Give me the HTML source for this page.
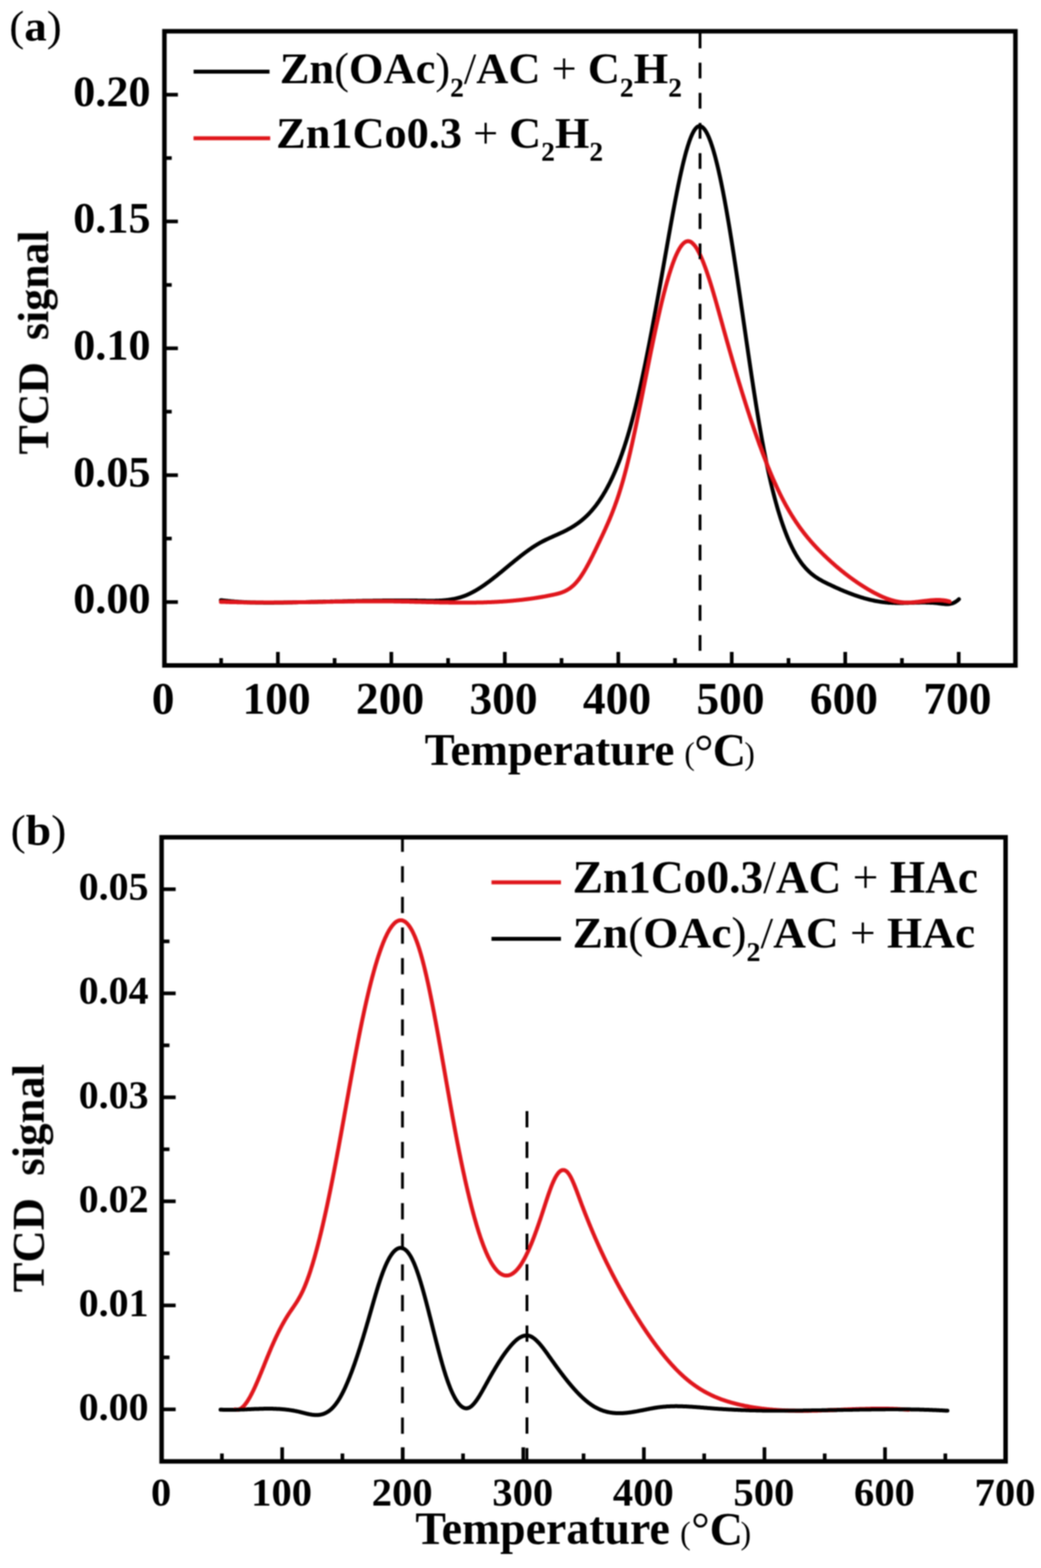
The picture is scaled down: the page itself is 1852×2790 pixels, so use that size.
<!DOCTYPE html><html><head><meta charset="utf-8"><title>TCD signal vs Temperature</title><style>html,body{margin:0;padding:0;background:#fff}svg{display:block}</style></head><body>
<svg width="1852" height="2790" viewBox="0 0 1852 2790">
<defs><filter id="soft" x="0" y="0" width="1" height="1"><feGaussianBlur stdDeviation="0.8"/></filter></defs>
<rect width="1852" height="2790" fill="#fff"/>
<g filter="url(#soft)">
<path d="M494.4,1184.0V1160.0 M696.2,1184.0V1160.0 M898.1,1184.0V1160.0 M1100.0,1184.0V1160.0 M1301.8,1184.0V1160.0 M1503.7,1184.0V1160.0 M1705.6,1184.0V1160.0 M393.4,1184.0V1171.0 M595.3,1184.0V1171.0 M797.2,1184.0V1171.0 M999.0,1184.0V1171.0 M1200.9,1184.0V1171.0 M1402.8,1184.0V1171.0 M1604.6,1184.0V1171.0 M292.5,1071.2H316.5 M292.5,845.5H316.5 M292.5,619.8H316.5 M292.5,394.1H316.5 M292.5,168.4H316.5 M292.5,958.3H305.5 M292.5,732.6H305.5 M292.5,507.0H305.5 M292.5,281.3H305.5" stroke="#000" stroke-width="6.5" fill="none"/>
<path d="M393.0,1067.9L394.0,1068.0L395.0,1068.1L396.0,1068.2L397.0,1068.4L398.0,1068.5L399.0,1068.6L400.0,1068.7L401.0,1068.8L402.0,1068.9L403.0,1069.0L404.0,1069.1L405.0,1069.2L406.0,1069.3L407.0,1069.4L408.0,1069.5L409.0,1069.6L410.0,1069.7L411.0,1069.8L412.0,1069.9L413.0,1070.0L414.0,1070.1L415.0,1070.1L416.0,1070.2L417.0,1070.3L418.0,1070.4L419.0,1070.5L420.0,1070.5L421.0,1070.6L422.0,1070.7L423.0,1070.7L424.0,1070.8L425.0,1070.9L426.0,1070.9L427.0,1071.0L428.0,1071.1L429.0,1071.1L430.0,1071.2L431.0,1071.2L432.0,1071.3L433.0,1071.3L434.0,1071.4L435.0,1071.4L436.0,1071.5L437.0,1071.5L438.0,1071.6L439.0,1071.6L440.0,1071.7L441.0,1071.7L442.0,1071.8L443.0,1071.8L444.0,1071.8L445.0,1071.9L446.0,1071.9L447.0,1071.9L448.0,1072.0L449.0,1072.0L450.0,1072.0L451.0,1072.1L452.0,1072.1L453.0,1072.1L454.0,1072.1L455.0,1072.2L456.0,1072.2L457.0,1072.2L458.0,1072.2L459.0,1072.2L460.0,1072.2L461.0,1072.3L462.0,1072.3L463.0,1072.3L464.0,1072.3L465.0,1072.3L466.0,1072.3L467.0,1072.3L468.0,1072.3L469.0,1072.4L470.0,1072.4L471.0,1072.4L472.0,1072.4L473.0,1072.4L474.0,1072.4L475.0,1072.4L476.0,1072.4L477.0,1072.4L478.0,1072.4L479.0,1072.4L480.0,1072.4L481.0,1072.4L482.0,1072.4L483.0,1072.4L484.0,1072.4L485.0,1072.4L486.0,1072.4L487.0,1072.4L488.0,1072.3L489.0,1072.3L490.0,1072.3L491.0,1072.3L492.0,1072.3L493.0,1072.3L494.0,1072.3L495.0,1072.3L496.0,1072.3L497.0,1072.3L498.0,1072.2L499.0,1072.2L500.0,1072.2L501.0,1072.2L502.0,1072.2L503.0,1072.2L504.0,1072.2L505.0,1072.1L506.0,1072.1L507.0,1072.1L508.0,1072.1L509.0,1072.1L510.0,1072.1L511.0,1072.0L512.0,1072.0L513.0,1072.0L514.0,1072.0L515.0,1072.0L516.0,1071.9L517.0,1071.9L518.0,1071.9L519.0,1071.9L520.0,1071.9L521.0,1071.8L522.0,1071.8L523.0,1071.8L524.0,1071.8L525.0,1071.8L526.0,1071.7L527.0,1071.7L528.0,1071.7L529.0,1071.7L530.0,1071.7L531.0,1071.6L532.0,1071.6L533.0,1071.6L534.0,1071.6L535.0,1071.6L536.0,1071.5L537.0,1071.5L538.0,1071.5L539.0,1071.5L540.0,1071.4L541.0,1071.4L542.0,1071.4L543.0,1071.4L544.0,1071.4L545.0,1071.3L546.0,1071.3L547.0,1071.3L548.0,1071.3L549.0,1071.2L550.0,1071.2L551.0,1071.2L552.0,1071.2L553.0,1071.1L554.0,1071.1L555.0,1071.1L556.0,1071.1L557.0,1071.1L558.0,1071.0L559.0,1071.0L560.0,1071.0L561.0,1071.0L562.0,1070.9L563.0,1070.9L564.0,1070.9L565.0,1070.9L566.0,1070.8L567.0,1070.8L568.0,1070.8L569.0,1070.8L570.0,1070.8L571.0,1070.7L572.0,1070.7L573.0,1070.7L574.0,1070.7L575.0,1070.6L576.0,1070.6L577.0,1070.6L578.0,1070.6L579.0,1070.5L580.0,1070.5L581.0,1070.5L582.0,1070.5L583.0,1070.5L584.0,1070.4L585.0,1070.4L586.0,1070.4L587.0,1070.4L588.0,1070.3L589.0,1070.3L590.0,1070.3L591.0,1070.3L592.0,1070.2L593.0,1070.2L594.0,1070.2L595.0,1070.2L596.0,1070.1L597.0,1070.1L598.0,1070.1L599.0,1070.1L600.0,1070.1L601.0,1070.0L602.0,1070.0L603.0,1070.0L604.0,1070.0L605.0,1069.9L606.0,1069.9L607.0,1069.9L608.0,1069.9L609.0,1069.9L610.0,1069.8L611.0,1069.8L612.0,1069.8L613.0,1069.8L614.0,1069.7L615.0,1069.7L616.0,1069.7L617.0,1069.7L618.0,1069.7L619.0,1069.6L620.0,1069.6L621.0,1069.6L622.0,1069.6L623.0,1069.6L624.0,1069.5L625.0,1069.5L626.0,1069.5L627.0,1069.5L628.0,1069.5L629.0,1069.4L630.0,1069.4L631.0,1069.4L632.0,1069.4L633.0,1069.4L634.0,1069.3L635.0,1069.3L636.0,1069.3L637.0,1069.3L638.0,1069.3L639.0,1069.2L640.0,1069.2L641.0,1069.2L642.0,1069.2L643.0,1069.2L644.0,1069.2L645.0,1069.1L646.0,1069.1L647.0,1069.1L648.0,1069.1L649.0,1069.1L650.0,1069.1L651.0,1069.0L652.0,1069.0L653.0,1069.0L654.0,1069.0L655.0,1069.0L656.0,1069.0L657.0,1068.9L658.0,1068.9L659.0,1068.9L660.0,1068.9L661.0,1068.9L662.0,1068.9L663.0,1068.9L664.0,1068.8L665.0,1068.8L666.0,1068.8L667.0,1068.8L668.0,1068.8L669.0,1068.8L670.0,1068.8L671.0,1068.8L672.0,1068.7L673.0,1068.7L674.0,1068.7L675.0,1068.7L676.0,1068.7L677.0,1068.7L678.0,1068.7L679.0,1068.7L680.0,1068.7L681.0,1068.6L682.0,1068.6L683.0,1068.6L684.0,1068.6L685.0,1068.6L686.0,1068.6L687.0,1068.6L688.0,1068.6L689.0,1068.6L690.0,1068.6L691.0,1068.6L692.0,1068.6L693.0,1068.6L694.0,1068.5L695.0,1068.5L696.0,1068.5L697.0,1068.5L698.0,1068.5L699.0,1068.5L700.0,1068.5L701.0,1068.5L702.0,1068.5L703.0,1068.5L704.0,1068.5L705.0,1068.5L706.0,1068.5L707.0,1068.5L708.0,1068.5L709.0,1068.5L710.0,1068.5L711.0,1068.5L712.0,1068.5L713.0,1068.5L714.0,1068.5L715.0,1068.5L716.0,1068.5L717.0,1068.5L718.0,1068.5L719.0,1068.5L720.0,1068.5L721.0,1068.5L722.0,1068.5L723.0,1068.5L724.0,1068.5L725.0,1068.5L726.0,1068.5L727.0,1068.5L728.0,1068.5L729.0,1068.5L730.0,1068.5L731.0,1068.5L732.0,1068.6L733.0,1068.6L734.0,1068.6L735.0,1068.6L736.0,1068.6L737.0,1068.6L738.0,1068.6L739.0,1068.6L740.0,1068.6L741.0,1068.6L742.0,1068.6L743.0,1068.7L744.0,1068.7L745.0,1068.7L746.0,1068.7L747.0,1068.7L748.0,1068.7L749.0,1068.7L750.0,1068.7L751.0,1068.8L752.0,1068.8L753.0,1068.8L754.0,1068.8L755.0,1068.8L756.0,1068.8L757.0,1068.8L758.0,1068.9L759.0,1068.9L760.0,1068.9L761.0,1068.9L762.0,1068.9L763.0,1068.9L764.0,1068.9L765.0,1068.9L766.0,1068.9L767.0,1068.9L768.0,1068.9L769.0,1068.9L770.0,1068.9L771.0,1068.9L772.0,1068.9L773.0,1068.9L774.0,1068.9L775.0,1068.8L776.0,1068.8L777.0,1068.8L778.0,1068.8L779.0,1068.7L780.0,1068.7L781.0,1068.7L782.0,1068.6L783.0,1068.6L784.0,1068.5L785.0,1068.5L786.0,1068.4L787.0,1068.3L788.0,1068.3L789.0,1068.2L790.0,1068.1L791.0,1068.0L792.0,1067.9L793.0,1067.8L794.0,1067.7L795.0,1067.6L796.0,1067.5L797.0,1067.4L798.0,1067.2L799.0,1067.1L800.0,1067.0L801.0,1066.8L802.0,1066.7L803.0,1066.5L804.0,1066.3L805.0,1066.1L806.0,1066.0L807.0,1065.8L808.0,1065.6L809.0,1065.4L810.0,1065.1L811.0,1064.9L812.0,1064.7L813.0,1064.4L814.0,1064.2L815.0,1063.9L816.0,1063.7L817.0,1063.4L818.0,1063.1L819.0,1062.8L820.0,1062.5L821.0,1062.2L822.0,1061.8L823.0,1061.5L824.0,1061.2L825.0,1060.8L826.0,1060.4L827.0,1060.1L828.0,1059.7L829.0,1059.3L830.0,1058.9L831.0,1058.4L832.0,1058.0L833.0,1057.6L834.0,1057.1L835.0,1056.6L836.0,1056.2L837.0,1055.7L838.0,1055.2L839.0,1054.7L840.0,1054.2L841.0,1053.6L842.0,1053.1L843.0,1052.5L844.0,1052.0L845.0,1051.4L846.0,1050.9L847.0,1050.3L848.0,1049.7L849.0,1049.1L850.0,1048.5L851.0,1047.9L852.0,1047.2L853.0,1046.6L854.0,1046.0L855.0,1045.3L856.0,1044.6L857.0,1044.0L858.0,1043.3L859.0,1042.6L860.0,1041.9L861.0,1041.3L862.0,1040.6L863.0,1039.9L864.0,1039.1L865.0,1038.4L866.0,1037.7L867.0,1037.0L868.0,1036.2L869.0,1035.5L870.0,1034.8L871.0,1034.0L872.0,1033.3L873.0,1032.5L874.0,1031.7L875.0,1031.0L876.0,1030.2L877.0,1029.4L878.0,1028.6L879.0,1027.8L880.0,1027.1L881.0,1026.3L882.0,1025.5L883.0,1024.7L884.0,1023.9L885.0,1023.1L886.0,1022.3L887.0,1021.5L888.0,1020.6L889.0,1019.8L890.0,1019.0L891.0,1018.2L892.0,1017.4L893.0,1016.6L894.0,1015.7L895.0,1014.9L896.0,1014.1L897.0,1013.3L898.0,1012.4L899.0,1011.6L900.0,1010.8L901.0,1009.9L902.0,1009.1L903.0,1008.3L904.0,1007.5L905.0,1006.6L906.0,1005.8L907.0,1005.0L908.0,1004.1L909.0,1003.3L910.0,1002.5L911.0,1001.7L912.0,1000.9L913.0,1000.0L914.0,999.2L915.0,998.4L916.0,997.6L917.0,996.8L918.0,996.0L919.0,995.2L920.0,994.4L921.0,993.6L922.0,992.8L923.0,992.0L924.0,991.2L925.0,990.4L926.0,989.6L927.0,988.8L928.0,988.0L929.0,987.3L930.0,986.5L931.0,985.7L932.0,985.0L933.0,984.2L934.0,983.5L935.0,982.7L936.0,982.0L937.0,981.3L938.0,980.5L939.0,979.8L940.0,979.1L941.0,978.4L942.0,977.7L943.0,977.0L944.0,976.3L945.0,975.6L946.0,974.9L947.0,974.2L948.0,973.6L949.0,972.9L950.0,972.3L951.0,971.6L952.0,971.0L953.0,970.4L954.0,969.8L955.0,969.2L956.0,968.6L957.0,968.0L958.0,967.4L959.0,966.8L960.0,966.2L961.0,965.7L962.0,965.1L963.0,964.6L964.0,964.1L965.0,963.5L966.0,963.0L967.0,962.5L968.0,962.0L969.0,961.5L970.0,961.0L971.0,960.5L972.0,960.0L973.0,959.6L974.0,959.1L975.0,958.6L976.0,958.2L977.0,957.7L978.0,957.2L979.0,956.8L980.0,956.3L981.0,955.9L982.0,955.4L983.0,955.0L984.0,954.5L985.0,954.1L986.0,953.6L987.0,953.2L988.0,952.7L989.0,952.3L990.0,951.8L991.0,951.4L992.0,950.9L993.0,950.5L994.0,950.0L995.0,949.6L996.0,949.1L997.0,948.7L998.0,948.2L999.0,947.7L1000.0,947.3L1001.0,946.8L1002.0,946.3L1003.0,945.8L1004.0,945.3L1005.0,944.8L1006.0,944.3L1007.0,943.8L1008.0,943.3L1009.0,942.8L1010.0,942.2L1011.0,941.7L1012.0,941.2L1013.0,940.6L1014.0,940.1L1015.0,939.5L1016.0,938.9L1017.0,938.3L1018.0,937.7L1019.0,937.1L1020.0,936.5L1021.0,935.9L1022.0,935.2L1023.0,934.6L1024.0,933.9L1025.0,933.2L1026.0,932.5L1027.0,931.8L1028.0,931.1L1029.0,930.4L1030.0,929.7L1031.0,928.9L1032.0,928.1L1033.0,927.4L1034.0,926.6L1035.0,925.8L1036.0,924.9L1037.0,924.1L1038.0,923.2L1039.0,922.3L1040.0,921.5L1041.0,920.5L1042.0,919.6L1043.0,918.7L1044.0,917.7L1045.0,916.7L1046.0,915.7L1047.0,914.7L1048.0,913.7L1049.0,912.6L1050.0,911.5L1051.0,910.4L1052.0,909.3L1053.0,908.2L1054.0,907.0L1055.0,905.8L1056.0,904.6L1057.0,903.4L1058.0,902.1L1059.0,900.9L1060.0,899.6L1061.0,898.3L1062.0,896.9L1063.0,895.5L1064.0,894.2L1065.0,892.7L1066.0,891.3L1067.0,889.8L1068.0,888.3L1069.0,886.8L1070.0,885.3L1071.0,883.7L1072.0,882.1L1073.0,880.5L1074.0,878.8L1075.0,877.1L1076.0,875.4L1077.0,873.7L1078.0,871.9L1079.0,870.1L1080.0,868.3L1081.0,866.4L1082.0,864.5L1083.0,862.6L1084.0,860.7L1085.0,858.7L1086.0,856.7L1087.0,854.6L1088.0,852.5L1089.0,850.4L1090.0,848.3L1091.0,846.1L1092.0,843.9L1093.0,841.6L1094.0,839.3L1095.0,837.0L1096.0,834.6L1097.0,832.2L1098.0,829.8L1099.0,827.3L1100.0,824.7L1101.0,822.2L1102.0,819.5L1103.0,816.9L1104.0,814.2L1105.0,811.4L1106.0,808.7L1107.0,805.8L1108.0,802.9L1109.0,800.0L1110.0,797.1L1111.0,794.0L1112.0,791.0L1113.0,787.9L1114.0,784.7L1115.0,781.5L1116.0,778.2L1117.0,774.9L1118.0,771.6L1119.0,768.1L1120.0,764.7L1121.0,761.2L1122.0,757.6L1123.0,754.0L1124.0,750.3L1125.0,746.5L1126.0,742.7L1127.0,738.9L1128.0,735.0L1129.0,731.0L1130.0,727.0L1131.0,723.0L1132.0,718.9L1133.0,714.7L1134.0,710.5L1135.0,706.2L1136.0,701.9L1137.0,697.6L1138.0,693.2L1139.0,688.7L1140.0,684.2L1141.0,679.7L1142.0,675.1L1143.0,670.4L1144.0,665.8L1145.0,661.0L1146.0,656.3L1147.0,651.5L1148.0,646.6L1149.0,641.7L1150.0,636.8L1151.0,631.8L1152.0,626.8L1153.0,621.8L1154.0,616.7L1155.0,611.6L1156.0,606.4L1157.0,601.2L1158.0,596.0L1159.0,590.8L1160.0,585.5L1161.0,580.2L1162.0,574.9L1163.0,569.5L1164.0,564.2L1165.0,558.7L1166.0,553.3L1167.0,547.9L1168.0,542.4L1169.0,536.9L1170.0,531.4L1171.0,525.9L1172.0,520.3L1173.0,514.7L1174.0,509.2L1175.0,503.6L1176.0,497.9L1177.0,492.3L1178.0,486.7L1179.0,481.0L1180.0,475.4L1181.0,469.7L1182.0,464.0L1183.0,458.4L1184.0,452.7L1185.0,447.0L1186.0,441.3L1187.0,435.7L1188.0,430.0L1189.0,424.3L1190.0,418.7L1191.0,413.1L1192.0,407.5L1193.0,401.9L1194.0,396.4L1195.0,390.9L1196.0,385.4L1197.0,379.9L1198.0,374.5L1199.0,369.2L1200.0,363.9L1201.0,358.6L1202.0,353.4L1203.0,348.3L1204.0,343.2L1205.0,338.2L1206.0,333.2L1207.0,328.3L1208.0,323.5L1209.0,318.7L1210.0,314.1L1211.0,309.5L1212.0,305.0L1213.0,300.6L1214.0,296.3L1215.0,292.0L1216.0,287.9L1217.0,283.9L1218.0,280.0L1219.0,276.1L1220.0,272.4L1221.0,268.8L1222.0,265.4L1223.0,262.0L1224.0,258.8L1225.0,255.7L1226.0,252.7L1227.0,249.8L1228.0,247.1L1229.0,244.5L1230.0,242.1L1231.0,239.8L1232.0,237.7L1233.0,235.7L1234.0,233.8L1235.0,232.2L1236.0,230.6L1237.0,229.3L1238.0,228.1L1239.0,227.1L1240.0,226.2L1241.0,225.5L1242.0,225.0L1243.0,224.7L1244.0,224.5L1245.0,224.4L1246.0,224.5L1247.0,224.8L1248.0,225.3L1249.0,225.8L1250.0,226.6L1251.0,227.5L1252.0,228.5L1253.0,229.7L1254.0,231.0L1255.0,232.5L1256.0,234.1L1257.0,235.8L1258.0,237.7L1259.0,239.7L1260.0,241.9L1261.0,244.2L1262.0,246.6L1263.0,249.2L1264.0,251.8L1265.0,254.6L1266.0,257.6L1267.0,260.6L1268.0,263.8L1269.0,267.1L1270.0,270.5L1271.0,274.0L1272.0,277.7L1273.0,281.4L1274.0,285.3L1275.0,289.3L1276.0,293.3L1277.0,297.5L1278.0,301.8L1279.0,306.2L1280.0,310.7L1281.0,315.3L1282.0,320.0L1283.0,324.8L1284.0,329.7L1285.0,334.6L1286.0,339.7L1287.0,344.9L1288.0,350.1L1289.0,355.4L1290.0,360.8L1291.0,366.3L1292.0,371.9L1293.0,377.6L1294.0,383.3L1295.0,389.1L1296.0,395.0L1297.0,400.9L1298.0,406.9L1299.0,413.0L1300.0,419.2L1301.0,425.4L1302.0,431.7L1303.0,438.0L1304.0,444.4L1305.0,450.8L1306.0,457.3L1307.0,463.9L1308.0,470.4L1309.0,477.1L1310.0,483.7L1311.0,490.4L1312.0,497.1L1313.0,503.9L1314.0,510.7L1315.0,517.5L1316.0,524.3L1317.0,531.1L1318.0,538.0L1319.0,544.9L1320.0,551.7L1321.0,558.6L1322.0,565.5L1323.0,572.4L1324.0,579.3L1325.0,586.2L1326.0,593.1L1327.0,600.0L1328.0,606.9L1329.0,613.8L1330.0,620.6L1331.0,627.4L1332.0,634.2L1333.0,641.0L1334.0,647.8L1335.0,654.5L1336.0,661.2L1337.0,667.9L1338.0,674.5L1339.0,681.1L1340.0,687.6L1341.0,694.1L1342.0,700.5L1343.0,706.9L1344.0,713.3L1345.0,719.6L1346.0,725.8L1347.0,732.0L1348.0,738.1L1349.0,744.1L1350.0,750.1L1351.0,756.0L1352.0,761.8L1353.0,767.5L1354.0,773.2L1355.0,778.8L1356.0,784.3L1357.0,789.7L1358.0,795.0L1359.0,800.3L1360.0,805.4L1361.0,810.5L1362.0,815.5L1363.0,820.5L1364.0,825.3L1365.0,830.1L1366.0,834.8L1367.0,839.4L1368.0,843.9L1369.0,848.4L1370.0,852.8L1371.0,857.1L1372.0,861.4L1373.0,865.5L1374.0,869.7L1375.0,873.7L1376.0,877.7L1377.0,881.5L1378.0,885.4L1379.0,889.1L1380.0,892.8L1381.0,896.4L1382.0,900.0L1383.0,903.5L1384.0,906.9L1385.0,910.3L1386.0,913.6L1387.0,916.8L1388.0,920.0L1389.0,923.1L1390.0,926.2L1391.0,929.2L1392.0,932.1L1393.0,935.0L1394.0,937.8L1395.0,940.6L1396.0,943.3L1397.0,946.0L1398.0,948.6L1399.0,951.1L1400.0,953.6L1401.0,956.1L1402.0,958.5L1403.0,960.8L1404.0,963.1L1405.0,965.3L1406.0,967.5L1407.0,969.6L1408.0,971.7L1409.0,973.8L1410.0,975.8L1411.0,977.7L1412.0,979.7L1413.0,981.5L1414.0,983.3L1415.0,985.1L1416.0,986.9L1417.0,988.6L1418.0,990.2L1419.0,991.8L1420.0,993.4L1421.0,994.9L1422.0,996.4L1423.0,997.9L1424.0,999.3L1425.0,1000.7L1426.0,1002.1L1427.0,1003.4L1428.0,1004.7L1429.0,1005.9L1430.0,1007.1L1431.0,1008.3L1432.0,1009.5L1433.0,1010.6L1434.0,1011.7L1435.0,1012.8L1436.0,1013.8L1437.0,1014.8L1438.0,1015.8L1439.0,1016.8L1440.0,1017.7L1441.0,1018.6L1442.0,1019.5L1443.0,1020.4L1444.0,1021.2L1445.0,1022.0L1446.0,1022.8L1447.0,1023.6L1448.0,1024.3L1449.0,1025.1L1450.0,1025.8L1451.0,1026.5L1452.0,1027.2L1453.0,1027.8L1454.0,1028.5L1455.0,1029.1L1456.0,1029.8L1457.0,1030.4L1458.0,1031.0L1459.0,1031.5L1460.0,1032.1L1461.0,1032.7L1462.0,1033.2L1463.0,1033.8L1464.0,1034.3L1465.0,1034.8L1466.0,1035.3L1467.0,1035.8L1468.0,1036.3L1469.0,1036.8L1470.0,1037.3L1471.0,1037.8L1472.0,1038.3L1473.0,1038.8L1474.0,1039.3L1475.0,1039.8L1476.0,1040.2L1477.0,1040.7L1478.0,1041.2L1479.0,1041.7L1480.0,1042.1L1481.0,1042.6L1482.0,1043.1L1483.0,1043.5L1484.0,1044.0L1485.0,1044.5L1486.0,1044.9L1487.0,1045.4L1488.0,1045.8L1489.0,1046.3L1490.0,1046.7L1491.0,1047.2L1492.0,1047.6L1493.0,1048.0L1494.0,1048.5L1495.0,1048.9L1496.0,1049.4L1497.0,1049.8L1498.0,1050.2L1499.0,1050.6L1500.0,1051.1L1501.0,1051.5L1502.0,1051.9L1503.0,1052.3L1504.0,1052.7L1505.0,1053.1L1506.0,1053.5L1507.0,1053.9L1508.0,1054.3L1509.0,1054.7L1510.0,1055.1L1511.0,1055.5L1512.0,1055.9L1513.0,1056.2L1514.0,1056.6L1515.0,1057.0L1516.0,1057.4L1517.0,1057.7L1518.0,1058.1L1519.0,1058.5L1520.0,1058.8L1521.0,1059.2L1522.0,1059.5L1523.0,1059.9L1524.0,1060.2L1525.0,1060.5L1526.0,1060.9L1527.0,1061.2L1528.0,1061.5L1529.0,1061.9L1530.0,1062.2L1531.0,1062.5L1532.0,1062.8L1533.0,1063.1L1534.0,1063.4L1535.0,1063.7L1536.0,1064.0L1537.0,1064.3L1538.0,1064.6L1539.0,1064.9L1540.0,1065.1L1541.0,1065.4L1542.0,1065.7L1543.0,1065.9L1544.0,1066.2L1545.0,1066.5L1546.0,1066.7L1547.0,1067.0L1548.0,1067.2L1549.0,1067.4L1550.0,1067.7L1551.0,1067.9L1552.0,1068.1L1553.0,1068.3L1554.0,1068.5L1555.0,1068.8L1556.0,1069.0L1557.0,1069.2L1558.0,1069.4L1559.0,1069.5L1560.0,1069.7L1561.0,1069.9L1562.0,1070.1L1563.0,1070.2L1564.0,1070.4L1565.0,1070.6L1566.0,1070.7L1567.0,1070.9L1568.0,1071.0L1569.0,1071.1L1570.0,1071.3L1571.0,1071.4L1572.0,1071.5L1573.0,1071.6L1574.0,1071.7L1575.0,1071.8L1576.0,1071.9L1577.0,1072.0L1578.0,1072.1L1579.0,1072.2L1580.0,1072.3L1581.0,1072.4L1582.0,1072.4L1583.0,1072.5L1584.0,1072.5L1585.0,1072.6L1586.0,1072.6L1587.0,1072.7L1588.0,1072.7L1589.0,1072.8L1590.0,1072.8L1591.0,1072.8L1592.0,1072.8L1593.0,1072.9L1594.0,1072.9L1595.0,1072.9L1596.0,1072.9L1597.0,1072.9L1598.0,1072.9L1599.0,1072.9L1600.0,1072.9L1601.0,1072.9L1602.0,1072.9L1603.0,1072.9L1604.0,1072.9L1605.0,1072.9L1606.0,1072.9L1607.0,1072.9L1608.0,1072.8L1609.0,1072.8L1610.0,1072.8L1611.0,1072.8L1612.0,1072.8L1613.0,1072.7L1614.0,1072.7L1615.0,1072.7L1616.0,1072.7L1617.0,1072.6L1618.0,1072.6L1619.0,1072.6L1620.0,1072.5L1621.0,1072.5L1622.0,1072.5L1623.0,1072.5L1624.0,1072.4L1625.0,1072.4L1626.0,1072.4L1627.0,1072.3L1628.0,1072.3L1629.0,1072.3L1630.0,1072.3L1631.0,1072.2L1632.0,1072.2L1633.0,1072.2L1634.0,1072.2L1635.0,1072.2L1636.0,1072.2L1637.0,1072.1L1638.0,1072.1L1639.0,1072.1L1640.0,1072.1L1641.0,1072.1L1642.0,1072.1L1643.0,1072.1L1644.0,1072.1L1645.0,1072.1L1646.0,1072.1L1647.0,1072.1L1648.0,1072.2L1649.0,1072.2L1650.0,1072.2L1651.0,1072.2L1652.0,1072.2L1653.0,1072.3L1654.0,1072.3L1655.0,1072.4L1656.0,1072.4L1657.0,1072.5L1658.0,1072.5L1659.0,1072.6L1660.0,1072.6L1661.0,1072.7L1662.0,1072.8L1663.0,1072.8L1664.0,1072.9L1665.0,1073.0L1666.0,1073.1L1667.0,1073.2L1668.0,1073.3L1669.0,1073.4L1670.0,1073.5L1671.0,1073.7L1672.0,1073.8L1673.0,1073.9L1674.0,1074.0L1675.0,1074.2L1676.0,1074.3L1677.0,1074.4L1678.0,1074.5L1679.0,1074.6L1680.0,1074.7L1681.0,1074.8L1682.0,1074.9L1683.0,1074.9L1684.0,1074.9L1685.0,1074.9L1686.0,1074.9L1687.0,1074.9L1688.0,1074.8L1689.0,1074.7L1690.0,1074.5L1691.0,1074.3L1692.0,1074.1L1693.0,1073.9L1694.0,1073.6L1695.0,1073.3L1696.0,1072.9L1697.0,1072.4L1698.0,1072.0L1699.0,1071.4L1700.0,1070.9L1701.0,1070.2L1702.0,1069.5L1703.0,1068.8L1704.0,1068.0L1705.0,1067.1L1706.0,1066.2" stroke="#000" stroke-width="7.0" fill="none" stroke-linejoin="round" stroke-linecap="round"/>
<path d="M393.0,1070.9L394.0,1070.9L395.0,1070.9L396.0,1071.0L397.0,1071.0L398.0,1071.0L399.0,1071.1L400.0,1071.1L401.0,1071.1L402.0,1071.2L403.0,1071.2L404.0,1071.2L405.0,1071.3L406.0,1071.3L407.0,1071.3L408.0,1071.3L409.0,1071.4L410.0,1071.4L411.0,1071.4L412.0,1071.4L413.0,1071.5L414.0,1071.5L415.0,1071.5L416.0,1071.5L417.0,1071.6L418.0,1071.6L419.0,1071.6L420.0,1071.6L421.0,1071.6L422.0,1071.7L423.0,1071.7L424.0,1071.7L425.0,1071.7L426.0,1071.7L427.0,1071.8L428.0,1071.8L429.0,1071.8L430.0,1071.8L431.0,1071.8L432.0,1071.8L433.0,1071.8L434.0,1071.9L435.0,1071.9L436.0,1071.9L437.0,1071.9L438.0,1071.9L439.0,1071.9L440.0,1071.9L441.0,1071.9L442.0,1072.0L443.0,1072.0L444.0,1072.0L445.0,1072.0L446.0,1072.0L447.0,1072.0L448.0,1072.0L449.0,1072.0L450.0,1072.0L451.0,1072.0L452.0,1072.0L453.0,1072.1L454.0,1072.1L455.0,1072.1L456.0,1072.1L457.0,1072.1L458.0,1072.1L459.0,1072.1L460.0,1072.1L461.0,1072.1L462.0,1072.1L463.0,1072.1L464.0,1072.1L465.0,1072.1L466.0,1072.1L467.0,1072.1L468.0,1072.1L469.0,1072.1L470.0,1072.1L471.0,1072.1L472.0,1072.1L473.0,1072.1L474.0,1072.1L475.0,1072.1L476.0,1072.1L477.0,1072.1L478.0,1072.1L479.0,1072.1L480.0,1072.1L481.0,1072.1L482.0,1072.1L483.0,1072.1L484.0,1072.1L485.0,1072.1L486.0,1072.1L487.0,1072.1L488.0,1072.0L489.0,1072.0L490.0,1072.0L491.0,1072.0L492.0,1072.0L493.0,1072.0L494.0,1072.0L495.0,1072.0L496.0,1072.0L497.0,1072.0L498.0,1072.0L499.0,1072.0L500.0,1072.0L501.0,1072.0L502.0,1071.9L503.0,1071.9L504.0,1071.9L505.0,1071.9L506.0,1071.9L507.0,1071.9L508.0,1071.9L509.0,1071.9L510.0,1071.9L511.0,1071.9L512.0,1071.8L513.0,1071.8L514.0,1071.8L515.0,1071.8L516.0,1071.8L517.0,1071.8L518.0,1071.8L519.0,1071.8L520.0,1071.8L521.0,1071.7L522.0,1071.7L523.0,1071.7L524.0,1071.7L525.0,1071.7L526.0,1071.7L527.0,1071.7L528.0,1071.6L529.0,1071.6L530.0,1071.6L531.0,1071.6L532.0,1071.6L533.0,1071.6L534.0,1071.6L535.0,1071.6L536.0,1071.5L537.0,1071.5L538.0,1071.5L539.0,1071.5L540.0,1071.5L541.0,1071.5L542.0,1071.4L543.0,1071.4L544.0,1071.4L545.0,1071.4L546.0,1071.4L547.0,1071.4L548.0,1071.4L549.0,1071.3L550.0,1071.3L551.0,1071.3L552.0,1071.3L553.0,1071.3L554.0,1071.3L555.0,1071.2L556.0,1071.2L557.0,1071.2L558.0,1071.2L559.0,1071.2L560.0,1071.2L561.0,1071.1L562.0,1071.1L563.0,1071.1L564.0,1071.1L565.0,1071.1L566.0,1071.1L567.0,1071.1L568.0,1071.0L569.0,1071.0L570.0,1071.0L571.0,1071.0L572.0,1071.0L573.0,1071.0L574.0,1070.9L575.0,1070.9L576.0,1070.9L577.0,1070.9L578.0,1070.9L579.0,1070.9L580.0,1070.8L581.0,1070.8L582.0,1070.8L583.0,1070.8L584.0,1070.8L585.0,1070.8L586.0,1070.7L587.0,1070.7L588.0,1070.7L589.0,1070.7L590.0,1070.7L591.0,1070.7L592.0,1070.7L593.0,1070.6L594.0,1070.6L595.0,1070.6L596.0,1070.6L597.0,1070.6L598.0,1070.6L599.0,1070.5L600.0,1070.5L601.0,1070.5L602.0,1070.5L603.0,1070.5L604.0,1070.5L605.0,1070.5L606.0,1070.4L607.0,1070.4L608.0,1070.4L609.0,1070.4L610.0,1070.4L611.0,1070.4L612.0,1070.4L613.0,1070.3L614.0,1070.3L615.0,1070.3L616.0,1070.3L617.0,1070.3L618.0,1070.3L619.0,1070.3L620.0,1070.3L621.0,1070.3L622.0,1070.2L623.0,1070.2L624.0,1070.2L625.0,1070.2L626.0,1070.2L627.0,1070.2L628.0,1070.2L629.0,1070.2L630.0,1070.2L631.0,1070.1L632.0,1070.1L633.0,1070.1L634.0,1070.1L635.0,1070.1L636.0,1070.1L637.0,1070.1L638.0,1070.1L639.0,1070.1L640.0,1070.1L641.0,1070.1L642.0,1070.0L643.0,1070.0L644.0,1070.0L645.0,1070.0L646.0,1070.0L647.0,1070.0L648.0,1070.0L649.0,1070.0L650.0,1070.0L651.0,1070.0L652.0,1070.0L653.0,1070.0L654.0,1070.0L655.0,1070.0L656.0,1070.0L657.0,1070.0L658.0,1070.0L659.0,1070.0L660.0,1070.0L661.0,1070.0L662.0,1070.0L663.0,1070.0L664.0,1070.0L665.0,1070.0L666.0,1070.0L667.0,1070.0L668.0,1070.0L669.0,1070.0L670.0,1070.0L671.0,1070.0L672.0,1070.0L673.0,1070.0L674.0,1070.0L675.0,1070.0L676.0,1070.0L677.0,1070.0L678.0,1070.0L679.0,1070.0L680.0,1070.0L681.0,1070.0L682.0,1070.0L683.0,1070.0L684.0,1070.0L685.0,1070.0L686.0,1070.0L687.0,1070.0L688.0,1070.0L689.0,1070.0L690.0,1070.0L691.0,1070.1L692.0,1070.1L693.0,1070.1L694.0,1070.1L695.0,1070.1L696.0,1070.1L697.0,1070.1L698.0,1070.1L699.0,1070.1L700.0,1070.1L701.0,1070.2L702.0,1070.2L703.0,1070.2L704.0,1070.2L705.0,1070.2L706.0,1070.2L707.0,1070.2L708.0,1070.3L709.0,1070.3L710.0,1070.3L711.0,1070.3L712.0,1070.3L713.0,1070.3L714.0,1070.4L715.0,1070.4L716.0,1070.4L717.0,1070.4L718.0,1070.4L719.0,1070.5L720.0,1070.5L721.0,1070.5L722.0,1070.5L723.0,1070.5L724.0,1070.6L725.0,1070.6L726.0,1070.6L727.0,1070.6L728.0,1070.6L729.0,1070.7L730.0,1070.7L731.0,1070.7L732.0,1070.7L733.0,1070.8L734.0,1070.8L735.0,1070.8L736.0,1070.8L737.0,1070.8L738.0,1070.9L739.0,1070.9L740.0,1070.9L741.0,1070.9L742.0,1071.0L743.0,1071.0L744.0,1071.0L745.0,1071.0L746.0,1071.1L747.0,1071.1L748.0,1071.1L749.0,1071.1L750.0,1071.2L751.0,1071.2L752.0,1071.2L753.0,1071.2L754.0,1071.2L755.0,1071.3L756.0,1071.3L757.0,1071.3L758.0,1071.3L759.0,1071.4L760.0,1071.4L761.0,1071.4L762.0,1071.4L763.0,1071.5L764.0,1071.5L765.0,1071.5L766.0,1071.5L767.0,1071.5L768.0,1071.6L769.0,1071.6L770.0,1071.6L771.0,1071.6L772.0,1071.7L773.0,1071.7L774.0,1071.7L775.0,1071.7L776.0,1071.7L777.0,1071.8L778.0,1071.8L779.0,1071.8L780.0,1071.8L781.0,1071.8L782.0,1071.9L783.0,1071.9L784.0,1071.9L785.0,1071.9L786.0,1071.9L787.0,1072.0L788.0,1072.0L789.0,1072.0L790.0,1072.0L791.0,1072.0L792.0,1072.0L793.0,1072.1L794.0,1072.1L795.0,1072.1L796.0,1072.1L797.0,1072.1L798.0,1072.1L799.0,1072.2L800.0,1072.2L801.0,1072.2L802.0,1072.2L803.0,1072.2L804.0,1072.2L805.0,1072.2L806.0,1072.2L807.0,1072.2L808.0,1072.3L809.0,1072.3L810.0,1072.3L811.0,1072.3L812.0,1072.3L813.0,1072.3L814.0,1072.3L815.0,1072.3L816.0,1072.3L817.0,1072.3L818.0,1072.3L819.0,1072.3L820.0,1072.3L821.0,1072.3L822.0,1072.3L823.0,1072.3L824.0,1072.3L825.0,1072.3L826.0,1072.3L827.0,1072.3L828.0,1072.3L829.0,1072.3L830.0,1072.3L831.0,1072.3L832.0,1072.3L833.0,1072.3L834.0,1072.3L835.0,1072.3L836.0,1072.3L837.0,1072.3L838.0,1072.3L839.0,1072.3L840.0,1072.3L841.0,1072.2L842.0,1072.2L843.0,1072.2L844.0,1072.2L845.0,1072.2L846.0,1072.2L847.0,1072.2L848.0,1072.1L849.0,1072.1L850.0,1072.1L851.0,1072.1L852.0,1072.1L853.0,1072.0L854.0,1072.0L855.0,1072.0L856.0,1072.0L857.0,1071.9L858.0,1071.9L859.0,1071.9L860.0,1071.9L861.0,1071.8L862.0,1071.8L863.0,1071.8L864.0,1071.7L865.0,1071.7L866.0,1071.7L867.0,1071.6L868.0,1071.6L869.0,1071.6L870.0,1071.5L871.0,1071.5L872.0,1071.5L873.0,1071.4L874.0,1071.4L875.0,1071.3L876.0,1071.3L877.0,1071.2L878.0,1071.2L879.0,1071.2L880.0,1071.1L881.0,1071.1L882.0,1071.0L883.0,1071.0L884.0,1070.9L885.0,1070.8L886.0,1070.8L887.0,1070.7L888.0,1070.7L889.0,1070.6L890.0,1070.6L891.0,1070.5L892.0,1070.4L893.0,1070.4L894.0,1070.3L895.0,1070.2L896.0,1070.2L897.0,1070.1L898.0,1070.0L899.0,1070.0L900.0,1069.9L901.0,1069.8L902.0,1069.7L903.0,1069.7L904.0,1069.6L905.0,1069.5L906.0,1069.4L907.0,1069.3L908.0,1069.3L909.0,1069.2L910.0,1069.1L911.0,1069.0L912.0,1068.9L913.0,1068.8L914.0,1068.7L915.0,1068.6L916.0,1068.5L917.0,1068.4L918.0,1068.3L919.0,1068.2L920.0,1068.1L921.0,1068.0L922.0,1067.9L923.0,1067.8L924.0,1067.7L925.0,1067.6L926.0,1067.5L927.0,1067.4L928.0,1067.3L929.0,1067.2L930.0,1067.1L931.0,1066.9L932.0,1066.8L933.0,1066.7L934.0,1066.6L935.0,1066.5L936.0,1066.3L937.0,1066.2L938.0,1066.1L939.0,1066.0L940.0,1065.8L941.0,1065.7L942.0,1065.6L943.0,1065.4L944.0,1065.3L945.0,1065.1L946.0,1065.0L947.0,1064.9L948.0,1064.7L949.0,1064.6L950.0,1064.4L951.0,1064.3L952.0,1064.1L953.0,1064.0L954.0,1063.8L955.0,1063.7L956.0,1063.5L957.0,1063.3L958.0,1063.2L959.0,1063.0L960.0,1062.8L961.0,1062.7L962.0,1062.5L963.0,1062.3L964.0,1062.2L965.0,1062.0L966.0,1061.8L967.0,1061.6L968.0,1061.4L969.0,1061.3L970.0,1061.1L971.0,1060.9L972.0,1060.7L973.0,1060.5L974.0,1060.3L975.0,1060.1L976.0,1059.9L977.0,1059.7L978.0,1059.5L979.0,1059.3L980.0,1059.1L981.0,1058.9L982.0,1058.7L983.0,1058.5L984.0,1058.3L985.0,1058.1L986.0,1057.9L987.0,1057.6L988.0,1057.4L989.0,1057.2L990.0,1056.9L991.0,1056.7L992.0,1056.4L993.0,1056.2L994.0,1055.9L995.0,1055.6L996.0,1055.3L997.0,1055.0L998.0,1054.7L999.0,1054.3L1000.0,1054.0L1001.0,1053.6L1002.0,1053.2L1003.0,1052.8L1004.0,1052.3L1005.0,1051.9L1006.0,1051.4L1007.0,1050.9L1008.0,1050.3L1009.0,1049.8L1010.0,1049.2L1011.0,1048.6L1012.0,1048.0L1013.0,1047.3L1014.0,1046.6L1015.0,1045.9L1016.0,1045.1L1017.0,1044.3L1018.0,1043.5L1019.0,1042.6L1020.0,1041.7L1021.0,1040.8L1022.0,1039.8L1023.0,1038.8L1024.0,1037.7L1025.0,1036.6L1026.0,1035.5L1027.0,1034.3L1028.0,1033.1L1029.0,1031.8L1030.0,1030.5L1031.0,1029.2L1032.0,1027.8L1033.0,1026.3L1034.0,1024.9L1035.0,1023.3L1036.0,1021.8L1037.0,1020.2L1038.0,1018.6L1039.0,1017.0L1040.0,1015.3L1041.0,1013.6L1042.0,1011.9L1043.0,1010.1L1044.0,1008.3L1045.0,1006.5L1046.0,1004.6L1047.0,1002.8L1048.0,1000.9L1049.0,999.0L1050.0,997.1L1051.0,995.1L1052.0,993.2L1053.0,991.2L1054.0,989.2L1055.0,987.2L1056.0,985.1L1057.0,983.1L1058.0,981.1L1059.0,979.0L1060.0,976.9L1061.0,974.9L1062.0,972.8L1063.0,970.7L1064.0,968.6L1065.0,966.5L1066.0,964.4L1067.0,962.3L1068.0,960.2L1069.0,958.1L1070.0,956.0L1071.0,953.9L1072.0,951.8L1073.0,949.6L1074.0,947.5L1075.0,945.3L1076.0,943.1L1077.0,941.0L1078.0,938.7L1079.0,936.5L1080.0,934.2L1081.0,932.0L1082.0,929.7L1083.0,927.3L1084.0,925.0L1085.0,922.6L1086.0,920.2L1087.0,917.7L1088.0,915.3L1089.0,912.7L1090.0,910.2L1091.0,907.6L1092.0,905.0L1093.0,902.3L1094.0,899.6L1095.0,896.8L1096.0,894.0L1097.0,891.2L1098.0,888.3L1099.0,885.3L1100.0,882.3L1101.0,879.3L1102.0,876.1L1103.0,873.0L1104.0,869.8L1105.0,866.5L1106.0,863.1L1107.0,859.7L1108.0,856.2L1109.0,852.7L1110.0,849.1L1111.0,845.4L1112.0,841.7L1113.0,837.9L1114.0,834.0L1115.0,830.1L1116.0,826.0L1117.0,822.0L1118.0,817.8L1119.0,813.6L1120.0,809.4L1121.0,805.1L1122.0,800.7L1123.0,796.3L1124.0,791.9L1125.0,787.4L1126.0,782.8L1127.0,778.3L1128.0,773.6L1129.0,769.0L1130.0,764.3L1131.0,759.5L1132.0,754.8L1133.0,750.0L1134.0,745.1L1135.0,740.3L1136.0,735.4L1137.0,730.5L1138.0,725.6L1139.0,720.7L1140.0,715.7L1141.0,710.7L1142.0,705.8L1143.0,700.8L1144.0,695.8L1145.0,690.7L1146.0,685.7L1147.0,680.7L1148.0,675.7L1149.0,670.7L1150.0,665.7L1151.0,660.7L1152.0,655.7L1153.0,650.7L1154.0,645.7L1155.0,640.7L1156.0,635.8L1157.0,630.9L1158.0,625.9L1159.0,621.1L1160.0,616.2L1161.0,611.3L1162.0,606.5L1163.0,601.7L1164.0,597.0L1165.0,592.3L1166.0,587.6L1167.0,582.9L1168.0,578.3L1169.0,573.7L1170.0,569.2L1171.0,564.7L1172.0,560.3L1173.0,555.9L1174.0,551.5L1175.0,547.3L1176.0,543.0L1177.0,538.8L1178.0,534.7L1179.0,530.7L1180.0,526.7L1181.0,522.7L1182.0,518.8L1183.0,515.0L1184.0,511.2L1185.0,507.5L1186.0,503.9L1187.0,500.3L1188.0,496.9L1189.0,493.4L1190.0,490.1L1191.0,486.8L1192.0,483.6L1193.0,480.5L1194.0,477.4L1195.0,474.5L1196.0,471.6L1197.0,468.8L1198.0,466.1L1199.0,463.4L1200.0,460.9L1201.0,458.4L1202.0,456.0L1203.0,453.8L1204.0,451.6L1205.0,449.5L1206.0,447.5L1207.0,445.6L1208.0,443.7L1209.0,442.0L1210.0,440.4L1211.0,438.9L1212.0,437.5L1213.0,436.2L1214.0,435.0L1215.0,433.9L1216.0,432.9L1217.0,432.0L1218.0,431.3L1219.0,430.6L1220.0,430.1L1221.0,429.7L1222.0,429.4L1223.0,429.2L1224.0,429.1L1225.0,429.2L1226.0,429.3L1227.0,429.6L1228.0,430.0L1229.0,430.5L1230.0,431.1L1231.0,431.9L1232.0,432.7L1233.0,433.7L1234.0,434.7L1235.0,435.9L1236.0,437.1L1237.0,438.4L1238.0,439.9L1239.0,441.4L1240.0,443.0L1241.0,444.7L1242.0,446.5L1243.0,448.4L1244.0,450.4L1245.0,452.4L1246.0,454.5L1247.0,456.7L1248.0,459.0L1249.0,461.3L1250.0,463.8L1251.0,466.2L1252.0,468.8L1253.0,471.4L1254.0,474.1L1255.0,476.8L1256.0,479.6L1257.0,482.5L1258.0,485.4L1259.0,488.3L1260.0,491.3L1261.0,494.4L1262.0,497.5L1263.0,500.6L1264.0,503.8L1265.0,507.1L1266.0,510.3L1267.0,513.6L1268.0,517.0L1269.0,520.3L1270.0,523.7L1271.0,527.2L1272.0,530.6L1273.0,534.1L1274.0,537.6L1275.0,541.1L1276.0,544.7L1277.0,548.2L1278.0,551.8L1279.0,555.4L1280.0,559.0L1281.0,562.6L1282.0,566.2L1283.0,569.8L1284.0,573.4L1285.0,577.0L1286.0,580.6L1287.0,584.3L1288.0,587.9L1289.0,591.5L1290.0,595.0L1291.0,598.6L1292.0,602.2L1293.0,605.7L1294.0,609.3L1295.0,612.8L1296.0,616.3L1297.0,619.9L1298.0,623.4L1299.0,626.9L1300.0,630.3L1301.0,633.8L1302.0,637.3L1303.0,640.7L1304.0,644.2L1305.0,647.6L1306.0,651.0L1307.0,654.4L1308.0,657.8L1309.0,661.2L1310.0,664.5L1311.0,667.9L1312.0,671.2L1313.0,674.5L1314.0,677.9L1315.0,681.2L1316.0,684.4L1317.0,687.7L1318.0,691.0L1319.0,694.2L1320.0,697.5L1321.0,700.7L1322.0,703.9L1323.0,707.1L1324.0,710.3L1325.0,713.4L1326.0,716.6L1327.0,719.7L1328.0,722.9L1329.0,726.0L1330.0,729.1L1331.0,732.1L1332.0,735.2L1333.0,738.3L1334.0,741.3L1335.0,744.3L1336.0,747.3L1337.0,750.3L1338.0,753.3L1339.0,756.2L1340.0,759.2L1341.0,762.1L1342.0,765.0L1343.0,767.9L1344.0,770.8L1345.0,773.6L1346.0,776.5L1347.0,779.3L1348.0,782.1L1349.0,784.9L1350.0,787.7L1351.0,790.5L1352.0,793.2L1353.0,795.9L1354.0,798.6L1355.0,801.3L1356.0,804.0L1357.0,806.7L1358.0,809.3L1359.0,811.9L1360.0,814.5L1361.0,817.1L1362.0,819.7L1363.0,822.2L1364.0,824.7L1365.0,827.2L1366.0,829.7L1367.0,832.2L1368.0,834.6L1369.0,837.1L1370.0,839.5L1371.0,841.9L1372.0,844.3L1373.0,846.6L1374.0,848.9L1375.0,851.3L1376.0,853.6L1377.0,855.8L1378.0,858.1L1379.0,860.3L1380.0,862.5L1381.0,864.7L1382.0,866.9L1383.0,869.0L1384.0,871.2L1385.0,873.3L1386.0,875.3L1387.0,877.4L1388.0,879.5L1389.0,881.5L1390.0,883.5L1391.0,885.5L1392.0,887.4L1393.0,889.3L1394.0,891.3L1395.0,893.1L1396.0,895.0L1397.0,896.9L1398.0,898.7L1399.0,900.5L1400.0,902.3L1401.0,904.1L1402.0,905.8L1403.0,907.6L1404.0,909.3L1405.0,911.0L1406.0,912.7L1407.0,914.3L1408.0,916.0L1409.0,917.6L1410.0,919.2L1411.0,920.8L1412.0,922.3L1413.0,923.9L1414.0,925.4L1415.0,927.0L1416.0,928.5L1417.0,930.0L1418.0,931.4L1419.0,932.9L1420.0,934.3L1421.0,935.8L1422.0,937.2L1423.0,938.6L1424.0,940.0L1425.0,941.3L1426.0,942.7L1427.0,944.0L1428.0,945.3L1429.0,946.7L1430.0,948.0L1431.0,949.3L1432.0,950.5L1433.0,951.8L1434.0,953.0L1435.0,954.3L1436.0,955.5L1437.0,956.7L1438.0,957.9L1439.0,959.1L1440.0,960.3L1441.0,961.5L1442.0,962.6L1443.0,963.8L1444.0,964.9L1445.0,966.0L1446.0,967.2L1447.0,968.3L1448.0,969.4L1449.0,970.5L1450.0,971.5L1451.0,972.6L1452.0,973.7L1453.0,974.7L1454.0,975.8L1455.0,976.8L1456.0,977.9L1457.0,978.9L1458.0,979.9L1459.0,980.9L1460.0,981.9L1461.0,982.9L1462.0,983.9L1463.0,984.9L1464.0,985.9L1465.0,986.9L1466.0,987.8L1467.0,988.8L1468.0,989.7L1469.0,990.7L1470.0,991.6L1471.0,992.6L1472.0,993.5L1473.0,994.5L1474.0,995.4L1475.0,996.3L1476.0,997.2L1477.0,998.2L1478.0,999.1L1479.0,1000.0L1480.0,1000.9L1481.0,1001.8L1482.0,1002.6L1483.0,1003.5L1484.0,1004.4L1485.0,1005.3L1486.0,1006.2L1487.0,1007.0L1488.0,1007.9L1489.0,1008.7L1490.0,1009.6L1491.0,1010.4L1492.0,1011.3L1493.0,1012.1L1494.0,1012.9L1495.0,1013.8L1496.0,1014.6L1497.0,1015.4L1498.0,1016.2L1499.0,1017.0L1500.0,1017.8L1501.0,1018.6L1502.0,1019.4L1503.0,1020.2L1504.0,1021.0L1505.0,1021.7L1506.0,1022.5L1507.0,1023.3L1508.0,1024.0L1509.0,1024.8L1510.0,1025.6L1511.0,1026.3L1512.0,1027.0L1513.0,1027.8L1514.0,1028.5L1515.0,1029.2L1516.0,1030.0L1517.0,1030.7L1518.0,1031.4L1519.0,1032.1L1520.0,1032.8L1521.0,1033.5L1522.0,1034.2L1523.0,1034.9L1524.0,1035.6L1525.0,1036.3L1526.0,1037.0L1527.0,1037.6L1528.0,1038.3L1529.0,1039.0L1530.0,1039.6L1531.0,1040.3L1532.0,1040.9L1533.0,1041.6L1534.0,1042.2L1535.0,1042.9L1536.0,1043.5L1537.0,1044.1L1538.0,1044.7L1539.0,1045.4L1540.0,1046.0L1541.0,1046.6L1542.0,1047.2L1543.0,1047.8L1544.0,1048.4L1545.0,1049.0L1546.0,1049.6L1547.0,1050.1L1548.0,1050.7L1549.0,1051.3L1550.0,1051.9L1551.0,1052.4L1552.0,1053.0L1553.0,1053.5L1554.0,1054.1L1555.0,1054.6L1556.0,1055.2L1557.0,1055.7L1558.0,1056.2L1559.0,1056.7L1560.0,1057.2L1561.0,1057.7L1562.0,1058.2L1563.0,1058.7L1564.0,1059.2L1565.0,1059.7L1566.0,1060.1L1567.0,1060.6L1568.0,1061.1L1569.0,1061.5L1570.0,1061.9L1571.0,1062.4L1572.0,1062.8L1573.0,1063.2L1574.0,1063.6L1575.0,1064.0L1576.0,1064.4L1577.0,1064.8L1578.0,1065.2L1579.0,1065.5L1580.0,1065.9L1581.0,1066.2L1582.0,1066.6L1583.0,1066.9L1584.0,1067.2L1585.0,1067.5L1586.0,1067.8L1587.0,1068.1L1588.0,1068.4L1589.0,1068.7L1590.0,1069.0L1591.0,1069.2L1592.0,1069.5L1593.0,1069.7L1594.0,1069.9L1595.0,1070.1L1596.0,1070.3L1597.0,1070.5L1598.0,1070.7L1599.0,1070.9L1600.0,1071.0L1601.0,1071.2L1602.0,1071.3L1603.0,1071.5L1604.0,1071.6L1605.0,1071.7L1606.0,1071.8L1607.0,1071.8L1608.0,1071.9L1609.0,1072.0L1610.0,1072.0L1611.0,1072.1L1612.0,1072.1L1613.0,1072.1L1614.0,1072.1L1615.0,1072.1L1616.0,1072.1L1617.0,1072.1L1618.0,1072.0L1619.0,1072.0L1620.0,1071.9L1621.0,1071.9L1622.0,1071.8L1623.0,1071.8L1624.0,1071.7L1625.0,1071.6L1626.0,1071.5L1627.0,1071.4L1628.0,1071.3L1629.0,1071.2L1630.0,1071.1L1631.0,1071.0L1632.0,1070.9L1633.0,1070.8L1634.0,1070.7L1635.0,1070.6L1636.0,1070.5L1637.0,1070.3L1638.0,1070.2L1639.0,1070.1L1640.0,1070.0L1641.0,1069.8L1642.0,1069.7L1643.0,1069.6L1644.0,1069.5L1645.0,1069.3L1646.0,1069.2L1647.0,1069.1L1648.0,1069.0L1649.0,1068.9L1650.0,1068.8L1651.0,1068.6L1652.0,1068.5L1653.0,1068.4L1654.0,1068.3L1655.0,1068.2L1656.0,1068.1L1657.0,1068.1L1658.0,1068.0L1659.0,1067.9L1660.0,1067.8L1661.0,1067.8L1662.0,1067.7L1663.0,1067.7L1664.0,1067.6L1665.0,1067.6L1666.0,1067.6L1667.0,1067.6L1668.0,1067.6L1669.0,1067.6L1670.0,1067.6L1671.0,1067.6L1672.0,1067.6L1673.0,1067.7L1674.0,1067.7L1675.0,1067.8L1676.0,1067.9L1677.0,1068.0L1678.0,1068.1L1679.0,1068.2L1680.0,1068.3L1681.0,1068.5L1682.0,1068.6L1683.0,1068.8L1684.0,1069.0L1685.0,1069.2L1686.0,1069.4L1687.0,1069.6L1688.0,1069.9L1689.0,1070.1" stroke="#e0121b" stroke-width="7.0" fill="none" stroke-linejoin="round" stroke-linecap="round"/>
<path d="M1245.4,55.6V1184.0" stroke="#000" stroke-width="5.0" stroke-dasharray="28 25.6" stroke-dashoffset="-2.4" fill="none"/>
<rect x="292.5" y="55.6" width="1514.0" height="1128.4" fill="none" stroke="#000" stroke-width="8.0"/>
<path d="M344.4,127.4H479.5" stroke="#000" stroke-width="7.0"/>
<path d="M344.3,246H480.7" stroke="#e0121b" stroke-width="7.0"/>
<path d="M502.0,2600.3V2575.3 M716.5,2600.3V2575.3 M931.0,2600.3V2575.3 M1145.5,2600.3V2575.3 M1360.0,2600.3V2575.3 M1574.5,2600.3V2575.3 M394.8,2600.3V2586.3 M609.2,2600.3V2586.3 M823.8,2600.3V2586.3 M1038.2,2600.3V2586.3 M1252.8,2600.3V2586.3 M1467.2,2600.3V2586.3 M1681.8,2600.3V2586.3 M287.5,2507.8H312.5 M287.5,2322.7H312.5 M287.5,2137.6H312.5 M287.5,1952.5H312.5 M287.5,1767.4H312.5 M287.5,1582.3H312.5 M287.5,2415.2H301.5 M287.5,2230.1H301.5 M287.5,2045.0H301.5 M287.5,1860.0H301.5 M287.5,1674.9H301.5" stroke="#000" stroke-width="6.5" fill="none"/>
<path d="M418.0,2507.8L419.0,2508.1L420.0,2508.3L421.0,2508.5L422.0,2508.5L423.0,2508.4L424.0,2508.2L425.0,2507.9L426.0,2507.6L427.0,2507.1L428.0,2506.5L429.0,2505.9L430.0,2505.2L431.0,2504.3L432.0,2503.4L433.0,2502.5L434.0,2501.4L435.0,2500.3L436.0,2499.0L437.0,2497.8L438.0,2496.4L439.0,2495.0L440.0,2493.5L441.0,2492.0L442.0,2490.3L443.0,2488.7L444.0,2486.9L445.0,2485.2L446.0,2483.3L447.0,2481.4L448.0,2479.5L449.0,2477.5L450.0,2475.5L451.0,2473.4L452.0,2471.3L453.0,2469.2L454.0,2467.0L455.0,2464.8L456.0,2462.5L457.0,2460.2L458.0,2457.9L459.0,2455.6L460.0,2453.2L461.0,2450.8L462.0,2448.4L463.0,2446.0L464.0,2443.6L465.0,2441.1L466.0,2438.7L467.0,2436.2L468.0,2433.7L469.0,2431.3L470.0,2428.8L471.0,2426.3L472.0,2423.8L473.0,2421.3L474.0,2418.9L475.0,2416.4L476.0,2413.9L477.0,2411.5L478.0,2409.1L479.0,2406.6L480.0,2404.3L481.0,2401.9L482.0,2399.5L483.0,2397.2L484.0,2394.9L485.0,2392.6L486.0,2390.3L487.0,2388.1L488.0,2385.9L489.0,2383.7L490.0,2381.6L491.0,2379.4L492.0,2377.3L493.0,2375.2L494.0,2373.2L495.0,2371.1L496.0,2369.1L497.0,2367.1L498.0,2365.2L499.0,2363.2L500.0,2361.3L501.0,2359.4L502.0,2357.6L503.0,2355.8L504.0,2354.0L505.0,2352.2L506.0,2350.4L507.0,2348.7L508.0,2347.0L509.0,2345.4L510.0,2343.7L511.0,2342.1L512.0,2340.5L513.0,2339.0L514.0,2337.4L515.0,2335.9L516.0,2334.4L517.0,2332.9L518.0,2331.5L519.0,2330.0L520.0,2328.5L521.0,2327.1L522.0,2325.6L523.0,2324.1L524.0,2322.6L525.0,2321.1L526.0,2319.6L527.0,2318.1L528.0,2316.5L529.0,2314.9L530.0,2313.2L531.0,2311.5L532.0,2309.8L533.0,2308.0L534.0,2306.2L535.0,2304.3L536.0,2302.4L537.0,2300.4L538.0,2298.3L539.0,2296.2L540.0,2294.0L541.0,2291.7L542.0,2289.3L543.0,2286.9L544.0,2284.4L545.0,2281.9L546.0,2279.2L547.0,2276.5L548.0,2273.8L549.0,2271.0L550.0,2268.1L551.0,2265.1L552.0,2262.1L553.0,2259.0L554.0,2255.8L555.0,2252.6L556.0,2249.4L557.0,2246.0L558.0,2242.6L559.0,2239.2L560.0,2235.7L561.0,2232.1L562.0,2228.4L563.0,2224.8L564.0,2221.0L565.0,2217.2L566.0,2213.4L567.0,2209.4L568.0,2205.5L569.0,2201.5L570.0,2197.4L571.0,2193.3L572.0,2189.1L573.0,2184.9L574.0,2180.6L575.0,2176.3L576.0,2171.9L577.0,2167.5L578.0,2163.0L579.0,2158.5L580.0,2153.9L581.0,2149.3L582.0,2144.7L583.0,2140.0L584.0,2135.2L585.0,2130.5L586.0,2125.6L587.0,2120.8L588.0,2115.9L589.0,2110.9L590.0,2105.9L591.0,2100.9L592.0,2095.8L593.0,2090.7L594.0,2085.6L595.0,2080.4L596.0,2075.2L597.0,2070.0L598.0,2064.7L599.0,2059.4L600.0,2054.0L601.0,2048.7L602.0,2043.3L603.0,2037.9L604.0,2032.4L605.0,2026.9L606.0,2021.5L607.0,2016.0L608.0,2010.5L609.0,2004.9L610.0,1999.4L611.0,1993.8L612.0,1988.3L613.0,1982.7L614.0,1977.2L615.0,1971.6L616.0,1966.0L617.0,1960.5L618.0,1954.9L619.0,1949.3L620.0,1943.8L621.0,1938.2L622.0,1932.7L623.0,1927.2L624.0,1921.7L625.0,1916.2L626.0,1910.7L627.0,1905.3L628.0,1899.8L629.0,1894.4L630.0,1889.0L631.0,1883.7L632.0,1878.4L633.0,1873.1L634.0,1867.8L635.0,1862.6L636.0,1857.4L637.0,1852.2L638.0,1847.1L639.0,1842.0L640.0,1837.0L641.0,1832.0L642.0,1827.1L643.0,1822.2L644.0,1817.4L645.0,1812.6L646.0,1807.9L647.0,1803.2L648.0,1798.6L649.0,1794.0L650.0,1789.5L651.0,1785.0L652.0,1780.6L653.0,1776.3L654.0,1772.0L655.0,1767.7L656.0,1763.6L657.0,1759.4L658.0,1755.4L659.0,1751.4L660.0,1747.4L661.0,1743.6L662.0,1739.7L663.0,1736.0L664.0,1732.3L665.0,1728.6L666.0,1725.1L667.0,1721.5L668.0,1718.1L669.0,1714.7L670.0,1711.4L671.0,1708.1L672.0,1705.0L673.0,1701.8L674.0,1698.8L675.0,1695.8L676.0,1692.9L677.0,1690.0L678.0,1687.2L679.0,1684.5L680.0,1681.9L681.0,1679.3L682.0,1676.8L683.0,1674.4L684.0,1672.0L685.0,1669.7L686.0,1667.5L687.0,1665.4L688.0,1663.3L689.0,1661.3L690.0,1659.4L691.0,1657.6L692.0,1655.8L693.0,1654.1L694.0,1652.5L695.0,1651.0L696.0,1649.6L697.0,1648.2L698.0,1646.9L699.0,1645.7L700.0,1644.6L701.0,1643.5L702.0,1642.5L703.0,1641.6L704.0,1640.8L705.0,1640.1L706.0,1639.5L707.0,1638.9L708.0,1638.5L709.0,1638.1L710.0,1637.8L711.0,1637.6L712.0,1637.4L713.0,1637.4L714.0,1637.5L715.0,1637.6L716.0,1637.8L717.0,1638.2L718.0,1638.6L719.0,1639.1L720.0,1639.6L721.0,1640.3L722.0,1641.1L723.0,1642.0L724.0,1642.9L725.0,1644.0L726.0,1645.1L727.0,1646.4L728.0,1647.7L729.0,1649.1L730.0,1650.7L731.0,1652.3L732.0,1654.0L733.0,1655.8L734.0,1657.8L735.0,1659.8L736.0,1661.9L737.0,1664.1L738.0,1666.4L739.0,1668.8L740.0,1671.4L741.0,1674.0L742.0,1676.7L743.0,1679.5L744.0,1682.5L745.0,1685.5L746.0,1688.6L747.0,1691.9L748.0,1695.2L749.0,1698.7L750.0,1702.3L751.0,1705.9L752.0,1709.7L753.0,1713.5L754.0,1717.5L755.0,1721.5L756.0,1725.6L757.0,1729.9L758.0,1734.1L759.0,1738.5L760.0,1743.0L761.0,1747.5L762.0,1752.1L763.0,1756.8L764.0,1761.5L765.0,1766.4L766.0,1771.2L767.0,1776.2L768.0,1781.2L769.0,1786.2L770.0,1791.3L771.0,1796.5L772.0,1801.7L773.0,1807.0L774.0,1812.3L775.0,1817.6L776.0,1823.0L777.0,1828.4L778.0,1833.9L779.0,1839.4L780.0,1844.9L781.0,1850.5L782.0,1856.1L783.0,1861.7L784.0,1867.3L785.0,1873.0L786.0,1878.6L787.0,1884.3L788.0,1890.0L789.0,1895.7L790.0,1901.4L791.0,1907.1L792.0,1912.8L793.0,1918.6L794.0,1924.3L795.0,1930.0L796.0,1935.7L797.0,1941.4L798.0,1947.0L799.0,1952.7L800.0,1958.4L801.0,1964.0L802.0,1969.6L803.0,1975.2L804.0,1980.7L805.0,1986.3L806.0,1991.7L807.0,1997.2L808.0,2002.6L809.0,2008.0L810.0,2013.4L811.0,2018.7L812.0,2023.9L813.0,2029.2L814.0,2034.3L815.0,2039.4L816.0,2044.5L817.0,2049.6L818.0,2054.5L819.0,2059.5L820.0,2064.4L821.0,2069.2L822.0,2074.0L823.0,2078.7L824.0,2083.4L825.0,2088.1L826.0,2092.6L827.0,2097.2L828.0,2101.7L829.0,2106.1L830.0,2110.5L831.0,2114.8L832.0,2119.1L833.0,2123.3L834.0,2127.5L835.0,2131.6L836.0,2135.7L837.0,2139.7L838.0,2143.7L839.0,2147.6L840.0,2151.4L841.0,2155.2L842.0,2159.0L843.0,2162.6L844.0,2166.3L845.0,2169.8L846.0,2173.3L847.0,2176.8L848.0,2180.2L849.0,2183.5L850.0,2186.8L851.0,2190.0L852.0,2193.2L853.0,2196.2L854.0,2199.3L855.0,2202.3L856.0,2205.2L857.0,2208.0L858.0,2210.8L859.0,2213.5L860.0,2216.2L861.0,2218.8L862.0,2221.3L863.0,2223.8L864.0,2226.2L865.0,2228.6L866.0,2230.8L867.0,2233.0L868.0,2235.2L869.0,2237.3L870.0,2239.3L871.0,2241.2L872.0,2243.1L873.0,2244.9L874.0,2246.7L875.0,2248.4L876.0,2250.0L877.0,2251.5L878.0,2253.0L879.0,2254.4L880.0,2255.8L881.0,2257.1L882.0,2258.3L883.0,2259.5L884.0,2260.6L885.0,2261.6L886.0,2262.6L887.0,2263.5L888.0,2264.4L889.0,2265.1L890.0,2265.9L891.0,2266.5L892.0,2267.1L893.0,2267.6L894.0,2268.1L895.0,2268.5L896.0,2268.9L897.0,2269.1L898.0,2269.4L899.0,2269.5L900.0,2269.6L901.0,2269.7L902.0,2269.6L903.0,2269.5L904.0,2269.4L905.0,2269.2L906.0,2268.9L907.0,2268.6L908.0,2268.2L909.0,2267.8L910.0,2267.2L911.0,2266.7L912.0,2266.1L913.0,2265.4L914.0,2264.6L915.0,2263.8L916.0,2263.0L917.0,2262.0L918.0,2261.1L919.0,2260.0L920.0,2258.9L921.0,2257.8L922.0,2256.6L923.0,2255.3L924.0,2254.0L925.0,2252.6L926.0,2251.2L927.0,2249.7L928.0,2248.1L929.0,2246.5L930.0,2244.8L931.0,2243.1L932.0,2241.3L933.0,2239.5L934.0,2237.6L935.0,2235.7L936.0,2233.7L937.0,2231.6L938.0,2229.5L939.0,2227.4L940.0,2225.2L941.0,2223.0L942.0,2220.7L943.0,2218.4L944.0,2216.0L945.0,2213.6L946.0,2211.1L947.0,2208.6L948.0,2206.1L949.0,2203.5L950.0,2200.9L951.0,2198.2L952.0,2195.6L953.0,2192.8L954.0,2190.1L955.0,2187.3L956.0,2184.5L957.0,2181.6L958.0,2178.8L959.0,2175.9L960.0,2172.9L961.0,2170.0L962.0,2167.0L963.0,2164.0L964.0,2161.0L965.0,2157.9L966.0,2154.9L967.0,2151.8L968.0,2148.7L969.0,2145.6L970.0,2142.5L971.0,2139.5L972.0,2136.4L973.0,2133.4L974.0,2130.4L975.0,2127.4L976.0,2124.5L977.0,2121.7L978.0,2118.9L979.0,2116.1L980.0,2113.4L981.0,2110.8L982.0,2108.3L983.0,2105.8L984.0,2103.5L985.0,2101.3L986.0,2099.1L987.0,2097.1L988.0,2095.2L989.0,2093.4L990.0,2091.7L991.0,2090.2L992.0,2088.8L993.0,2087.5L994.0,2086.3L995.0,2085.3L996.0,2084.4L997.0,2083.6L998.0,2083.0L999.0,2082.5L1000.0,2082.2L1001.0,2081.9L1002.0,2081.9L1003.0,2081.9L1004.0,2082.1L1005.0,2082.5L1006.0,2082.9L1007.0,2083.6L1008.0,2084.3L1009.0,2085.3L1010.0,2086.3L1011.0,2087.6L1012.0,2088.9L1013.0,2090.4L1014.0,2092.1L1015.0,2093.8L1016.0,2095.7L1017.0,2097.7L1018.0,2099.8L1019.0,2102.0L1020.0,2104.3L1021.0,2106.6L1022.0,2109.1L1023.0,2111.6L1024.0,2114.1L1025.0,2116.7L1026.0,2119.3L1027.0,2122.0L1028.0,2124.7L1029.0,2127.4L1030.0,2130.1L1031.0,2132.8L1032.0,2135.5L1033.0,2138.2L1034.0,2140.9L1035.0,2143.6L1036.0,2146.2L1037.0,2148.8L1038.0,2151.5L1039.0,2154.1L1040.0,2156.6L1041.0,2159.2L1042.0,2161.8L1043.0,2164.3L1044.0,2166.8L1045.0,2169.3L1046.0,2171.8L1047.0,2174.3L1048.0,2176.8L1049.0,2179.2L1050.0,2181.6L1051.0,2184.0L1052.0,2186.4L1053.0,2188.8L1054.0,2191.2L1055.0,2193.6L1056.0,2195.9L1057.0,2198.2L1058.0,2200.6L1059.0,2202.9L1060.0,2205.1L1061.0,2207.4L1062.0,2209.7L1063.0,2211.9L1064.0,2214.2L1065.0,2216.4L1066.0,2218.6L1067.0,2220.8L1068.0,2223.0L1069.0,2225.2L1070.0,2227.3L1071.0,2229.5L1072.0,2231.6L1073.0,2233.7L1074.0,2235.8L1075.0,2237.9L1076.0,2240.0L1077.0,2242.1L1078.0,2244.2L1079.0,2246.2L1080.0,2248.3L1081.0,2250.3L1082.0,2252.3L1083.0,2254.3L1084.0,2256.3L1085.0,2258.3L1086.0,2260.3L1087.0,2262.2L1088.0,2264.2L1089.0,2266.1L1090.0,2268.1L1091.0,2270.0L1092.0,2271.9L1093.0,2273.8L1094.0,2275.7L1095.0,2277.6L1096.0,2279.5L1097.0,2281.4L1098.0,2283.2L1099.0,2285.1L1100.0,2286.9L1101.0,2288.8L1102.0,2290.6L1103.0,2292.4L1104.0,2294.2L1105.0,2296.0L1106.0,2297.8L1107.0,2299.6L1108.0,2301.4L1109.0,2303.1L1110.0,2304.9L1111.0,2306.6L1112.0,2308.4L1113.0,2310.1L1114.0,2311.9L1115.0,2313.6L1116.0,2315.3L1117.0,2317.0L1118.0,2318.7L1119.0,2320.4L1120.0,2322.1L1121.0,2323.8L1122.0,2325.5L1123.0,2327.1L1124.0,2328.8L1125.0,2330.5L1126.0,2332.1L1127.0,2333.8L1128.0,2335.4L1129.0,2337.0L1130.0,2338.7L1131.0,2340.3L1132.0,2341.9L1133.0,2343.5L1134.0,2345.1L1135.0,2346.7L1136.0,2348.3L1137.0,2349.8L1138.0,2351.4L1139.0,2353.0L1140.0,2354.5L1141.0,2356.1L1142.0,2357.6L1143.0,2359.2L1144.0,2360.7L1145.0,2362.2L1146.0,2363.7L1147.0,2365.2L1148.0,2366.7L1149.0,2368.2L1150.0,2369.7L1151.0,2371.2L1152.0,2372.6L1153.0,2374.1L1154.0,2375.5L1155.0,2377.0L1156.0,2378.4L1157.0,2379.9L1158.0,2381.3L1159.0,2382.7L1160.0,2384.1L1161.0,2385.5L1162.0,2386.9L1163.0,2388.3L1164.0,2389.6L1165.0,2391.0L1166.0,2392.4L1167.0,2393.7L1168.0,2395.1L1169.0,2396.4L1170.0,2397.7L1171.0,2399.0L1172.0,2400.3L1173.0,2401.6L1174.0,2402.9L1175.0,2404.2L1176.0,2405.5L1177.0,2406.8L1178.0,2408.0L1179.0,2409.3L1180.0,2410.5L1181.0,2411.7L1182.0,2413.0L1183.0,2414.2L1184.0,2415.4L1185.0,2416.6L1186.0,2417.8L1187.0,2419.0L1188.0,2420.1L1189.0,2421.3L1190.0,2422.4L1191.0,2423.6L1192.0,2424.7L1193.0,2425.8L1194.0,2427.0L1195.0,2428.1L1196.0,2429.2L1197.0,2430.2L1198.0,2431.3L1199.0,2432.4L1200.0,2433.5L1201.0,2434.5L1202.0,2435.6L1203.0,2436.6L1204.0,2437.6L1205.0,2438.6L1206.0,2439.6L1207.0,2440.6L1208.0,2441.6L1209.0,2442.6L1210.0,2443.5L1211.0,2444.5L1212.0,2445.4L1213.0,2446.4L1214.0,2447.3L1215.0,2448.2L1216.0,2449.1L1217.0,2450.0L1218.0,2450.9L1219.0,2451.8L1220.0,2452.6L1221.0,2453.5L1222.0,2454.3L1223.0,2455.2L1224.0,2456.0L1225.0,2456.8L1226.0,2457.6L1227.0,2458.4L1228.0,2459.2L1229.0,2460.0L1230.0,2460.7L1231.0,2461.5L1232.0,2462.2L1233.0,2463.0L1234.0,2463.7L1235.0,2464.4L1236.0,2465.1L1237.0,2465.8L1238.0,2466.5L1239.0,2467.2L1240.0,2467.9L1241.0,2468.6L1242.0,2469.2L1243.0,2469.9L1244.0,2470.5L1245.0,2471.1L1246.0,2471.8L1247.0,2472.4L1248.0,2473.0L1249.0,2473.6L1250.0,2474.2L1251.0,2474.8L1252.0,2475.4L1253.0,2475.9L1254.0,2476.5L1255.0,2477.0L1256.0,2477.6L1257.0,2478.1L1258.0,2478.7L1259.0,2479.2L1260.0,2479.7L1261.0,2480.2L1262.0,2480.7L1263.0,2481.2L1264.0,2481.7L1265.0,2482.2L1266.0,2482.6L1267.0,2483.1L1268.0,2483.6L1269.0,2484.0L1270.0,2484.5L1271.0,2484.9L1272.0,2485.4L1273.0,2485.8L1274.0,2486.2L1275.0,2486.6L1276.0,2487.0L1277.0,2487.4L1278.0,2487.8L1279.0,2488.2L1280.0,2488.6L1281.0,2489.0L1282.0,2489.4L1283.0,2489.8L1284.0,2490.1L1285.0,2490.5L1286.0,2490.8L1287.0,2491.2L1288.0,2491.5L1289.0,2491.9L1290.0,2492.2L1291.0,2492.5L1292.0,2492.9L1293.0,2493.2L1294.0,2493.5L1295.0,2493.8L1296.0,2494.1L1297.0,2494.4L1298.0,2494.7L1299.0,2495.0L1300.0,2495.3L1301.0,2495.6L1302.0,2495.9L1303.0,2496.1L1304.0,2496.4L1305.0,2496.7L1306.0,2496.9L1307.0,2497.2L1308.0,2497.5L1309.0,2497.7L1310.0,2498.0L1311.0,2498.2L1312.0,2498.5L1313.0,2498.7L1314.0,2498.9L1315.0,2499.2L1316.0,2499.4L1317.0,2499.6L1318.0,2499.9L1319.0,2500.1L1320.0,2500.3L1321.0,2500.5L1322.0,2500.7L1323.0,2500.9L1324.0,2501.2L1325.0,2501.4L1326.0,2501.6L1327.0,2501.8L1328.0,2502.0L1329.0,2502.1L1330.0,2502.3L1331.0,2502.5L1332.0,2502.7L1333.0,2502.9L1334.0,2503.1L1335.0,2503.3L1336.0,2503.4L1337.0,2503.6L1338.0,2503.8L1339.0,2503.9L1340.0,2504.1L1341.0,2504.3L1342.0,2504.4L1343.0,2504.6L1344.0,2504.7L1345.0,2504.9L1346.0,2505.0L1347.0,2505.2L1348.0,2505.3L1349.0,2505.5L1350.0,2505.6L1351.0,2505.7L1352.0,2505.9L1353.0,2506.0L1354.0,2506.1L1355.0,2506.3L1356.0,2506.4L1357.0,2506.5L1358.0,2506.6L1359.0,2506.7L1360.0,2506.9L1361.0,2507.0L1362.0,2507.1L1363.0,2507.2L1364.0,2507.3L1365.0,2507.4L1366.0,2507.5L1367.0,2507.6L1368.0,2507.7L1369.0,2507.8L1370.0,2507.9L1371.0,2508.0L1372.0,2508.1L1373.0,2508.1L1374.0,2508.2L1375.0,2508.3L1376.0,2508.4L1377.0,2508.5L1378.0,2508.6L1379.0,2508.6L1380.0,2508.7L1381.0,2508.8L1382.0,2508.8L1383.0,2508.9L1384.0,2509.0L1385.0,2509.0L1386.0,2509.1L1387.0,2509.2L1388.0,2509.2L1389.0,2509.3L1390.0,2509.3L1391.0,2509.4L1392.0,2509.4L1393.0,2509.5L1394.0,2509.5L1395.0,2509.6L1396.0,2509.6L1397.0,2509.7L1398.0,2509.7L1399.0,2509.7L1400.0,2509.8L1401.0,2509.8L1402.0,2509.8L1403.0,2509.9L1404.0,2509.9L1405.0,2509.9L1406.0,2510.0L1407.0,2510.0L1408.0,2510.0L1409.0,2510.0L1410.0,2510.1L1411.0,2510.1L1412.0,2510.1L1413.0,2510.1L1414.0,2510.1L1415.0,2510.2L1416.0,2510.2L1417.0,2510.2L1418.0,2510.2L1419.0,2510.2L1420.0,2510.2L1421.0,2510.2L1422.0,2510.2L1423.0,2510.2L1424.0,2510.2L1425.0,2510.2L1426.0,2510.2L1427.0,2510.2L1428.0,2510.2L1429.0,2510.2L1430.0,2510.2L1431.0,2510.2L1432.0,2510.2L1433.0,2510.2L1434.0,2510.2L1435.0,2510.2L1436.0,2510.2L1437.0,2510.2L1438.0,2510.2L1439.0,2510.1L1440.0,2510.1L1441.0,2510.1L1442.0,2510.1L1443.0,2510.1L1444.0,2510.1L1445.0,2510.1L1446.0,2510.0L1447.0,2510.0L1448.0,2510.0L1449.0,2510.0L1450.0,2510.0L1451.0,2509.9L1452.0,2509.9L1453.0,2509.9L1454.0,2509.9L1455.0,2509.8L1456.0,2509.8L1457.0,2509.8L1458.0,2509.7L1459.0,2509.7L1460.0,2509.7L1461.0,2509.7L1462.0,2509.6L1463.0,2509.6L1464.0,2509.6L1465.0,2509.5L1466.0,2509.5L1467.0,2509.5L1468.0,2509.4L1469.0,2509.4L1470.0,2509.4L1471.0,2509.3L1472.0,2509.3L1473.0,2509.3L1474.0,2509.2L1475.0,2509.2L1476.0,2509.2L1477.0,2509.1L1478.0,2509.1L1479.0,2509.0L1480.0,2509.0L1481.0,2509.0L1482.0,2508.9L1483.0,2508.9L1484.0,2508.8L1485.0,2508.8L1486.0,2508.8L1487.0,2508.7L1488.0,2508.7L1489.0,2508.6L1490.0,2508.6L1491.0,2508.6L1492.0,2508.5L1493.0,2508.5L1494.0,2508.4L1495.0,2508.4L1496.0,2508.4L1497.0,2508.3L1498.0,2508.3L1499.0,2508.2L1500.0,2508.2L1501.0,2508.2L1502.0,2508.1L1503.0,2508.1L1504.0,2508.0L1505.0,2508.0L1506.0,2508.0L1507.0,2507.9L1508.0,2507.9L1509.0,2507.8L1510.0,2507.8L1511.0,2507.8L1512.0,2507.7L1513.0,2507.7L1514.0,2507.7L1515.0,2507.6L1516.0,2507.6L1517.0,2507.5L1518.0,2507.5L1519.0,2507.5L1520.0,2507.4L1521.0,2507.4L1522.0,2507.4L1523.0,2507.3L1524.0,2507.3L1525.0,2507.3L1526.0,2507.2L1527.0,2507.2L1528.0,2507.2L1529.0,2507.1L1530.0,2507.1L1531.0,2507.1L1532.0,2507.0L1533.0,2507.0L1534.0,2507.0L1535.0,2507.0L1536.0,2506.9L1537.0,2506.9L1538.0,2506.9L1539.0,2506.9L1540.0,2506.8L1541.0,2506.8L1542.0,2506.8L1543.0,2506.8L1544.0,2506.7L1545.0,2506.7L1546.0,2506.7L1547.0,2506.7L1548.0,2506.7L1549.0,2506.6L1550.0,2506.6L1551.0,2506.6L1552.0,2506.6L1553.0,2506.6L1554.0,2506.6L1555.0,2506.6L1556.0,2506.5L1557.0,2506.5L1558.0,2506.5L1559.0,2506.5L1560.0,2506.5L1561.0,2506.5L1562.0,2506.5L1563.0,2506.5L1564.0,2506.5L1565.0,2506.5L1566.0,2506.5L1567.0,2506.5L1568.0,2506.5L1569.0,2506.5L1570.0,2506.5L1571.0,2506.5L1572.0,2506.5L1573.0,2506.5L1574.0,2506.5L1575.0,2506.5L1576.0,2506.6L1577.0,2506.6L1578.0,2506.6L1579.0,2506.6L1580.0,2506.6L1581.0,2506.6L1582.0,2506.7L1583.0,2506.7L1584.0,2506.7L1585.0,2506.7L1586.0,2506.8L1587.0,2506.8L1588.0,2506.8L1589.0,2506.8L1590.0,2506.9L1591.0,2506.9L1592.0,2506.9L1593.0,2507.0L1594.0,2507.0L1595.0,2507.1L1596.0,2507.1L1597.0,2507.2L1598.0,2507.2L1599.0,2507.2L1600.0,2507.3L1601.0,2507.3L1602.0,2507.4L1603.0,2507.4L1604.0,2507.5L1605.0,2507.6L1606.0,2507.6L1607.0,2507.7L1608.0,2507.7L1609.0,2507.8L1610.0,2507.9L1611.0,2507.9L1612.0,2508.0L1613.0,2508.1L1614.0,2508.2L1615.0,2508.2L1616.0,2508.3" stroke="#e0121b" stroke-width="7.0" fill="none" stroke-linejoin="round" stroke-linecap="round"/>
<path d="M392.4,2508.2L393.4,2508.3L394.4,2508.3L395.4,2508.3L396.4,2508.4L397.4,2508.4L398.4,2508.4L399.4,2508.5L400.4,2508.5L401.4,2508.5L402.4,2508.5L403.4,2508.5L404.4,2508.5L405.4,2508.5L406.4,2508.5L407.4,2508.5L408.4,2508.5L409.4,2508.5L410.4,2508.5L411.4,2508.5L412.4,2508.5L413.4,2508.5L414.4,2508.5L415.4,2508.5L416.4,2508.4L417.4,2508.4L418.4,2508.4L419.4,2508.4L420.4,2508.3L421.4,2508.3L422.4,2508.3L423.4,2508.3L424.4,2508.2L425.4,2508.2L426.4,2508.2L427.4,2508.1L428.4,2508.1L429.4,2508.1L430.4,2508.0L431.4,2508.0L432.4,2508.0L433.4,2507.9L434.4,2507.9L435.4,2507.8L436.4,2507.8L437.4,2507.7L438.4,2507.7L439.4,2507.7L440.4,2507.6L441.4,2507.6L442.4,2507.5L443.4,2507.5L444.4,2507.5L445.4,2507.4L446.4,2507.4L447.4,2507.3L448.4,2507.3L449.4,2507.3L450.4,2507.2L451.4,2507.2L452.4,2507.1L453.4,2507.1L454.4,2507.1L455.4,2507.0L456.4,2507.0L457.4,2506.9L458.4,2506.9L459.4,2506.9L460.4,2506.9L461.4,2506.8L462.4,2506.8L463.4,2506.8L464.4,2506.7L465.4,2506.7L466.4,2506.7L467.4,2506.7L468.4,2506.7L469.4,2506.6L470.4,2506.6L471.4,2506.6L472.4,2506.6L473.4,2506.6L474.4,2506.6L475.4,2506.6L476.4,2506.6L477.4,2506.6L478.4,2506.6L479.4,2506.6L480.4,2506.6L481.4,2506.6L482.4,2506.6L483.4,2506.6L484.4,2506.6L485.4,2506.6L486.4,2506.7L487.4,2506.7L488.4,2506.7L489.4,2506.8L490.4,2506.8L491.4,2506.8L492.4,2506.9L493.4,2506.9L494.4,2507.0L495.4,2507.0L496.4,2507.1L497.4,2507.1L498.4,2507.2L499.4,2507.3L500.4,2507.3L501.4,2507.4L502.4,2507.5L503.4,2507.6L504.4,2507.7L505.4,2507.7L506.4,2507.8L507.4,2507.9L508.4,2508.1L509.4,2508.2L510.4,2508.3L511.4,2508.4L512.4,2508.5L513.4,2508.6L514.4,2508.8L515.4,2508.9L516.4,2509.1L517.4,2509.2L518.4,2509.4L519.4,2509.5L520.4,2509.7L521.4,2509.8L522.4,2510.0L523.4,2510.2L524.4,2510.4L525.4,2510.6L526.4,2510.8L527.4,2511.0L528.4,2511.2L529.4,2511.4L530.4,2511.6L531.4,2511.8L532.4,2512.1L533.4,2512.3L534.4,2512.6L535.4,2512.8L536.4,2513.1L537.4,2513.3L538.4,2513.6L539.4,2513.8L540.4,2514.1L541.4,2514.3L542.4,2514.6L543.4,2514.8L544.4,2515.1L545.4,2515.3L546.4,2515.6L547.4,2515.8L548.4,2516.0L549.4,2516.2L550.4,2516.4L551.4,2516.6L552.4,2516.8L553.4,2517.0L554.4,2517.1L555.4,2517.3L556.4,2517.4L557.4,2517.5L558.4,2517.6L559.4,2517.7L560.4,2517.8L561.4,2517.8L562.4,2517.8L563.4,2517.8L564.4,2517.8L565.4,2517.7L566.4,2517.7L567.4,2517.6L568.4,2517.5L569.4,2517.3L570.4,2517.1L571.4,2516.9L572.4,2516.7L573.4,2516.4L574.4,2516.1L575.4,2515.8L576.4,2515.4L577.4,2515.0L578.4,2514.6L579.4,2514.1L580.4,2513.6L581.4,2513.0L582.4,2512.4L583.4,2511.8L584.4,2511.2L585.4,2510.4L586.4,2509.7L587.4,2508.9L588.4,2508.0L589.4,2507.2L590.4,2506.2L591.4,2505.2L592.4,2504.2L593.4,2503.1L594.4,2502.0L595.4,2500.8L596.4,2499.6L597.4,2498.3L598.4,2496.9L599.4,2495.5L600.4,2494.1L601.4,2492.6L602.4,2491.0L603.4,2489.4L604.4,2487.7L605.4,2486.0L606.4,2484.2L607.4,2482.4L608.4,2480.5L609.4,2478.6L610.4,2476.6L611.4,2474.6L612.4,2472.5L613.4,2470.4L614.4,2468.2L615.4,2466.0L616.4,2463.7L617.4,2461.4L618.4,2459.0L619.4,2456.6L620.4,2454.2L621.4,2451.7L622.4,2449.2L623.4,2446.6L624.4,2444.0L625.4,2441.4L626.4,2438.7L627.4,2436.0L628.4,2433.3L629.4,2430.5L630.4,2427.7L631.4,2424.8L632.4,2421.9L633.4,2419.0L634.4,2416.0L635.4,2413.1L636.4,2410.0L637.4,2407.0L638.4,2403.9L639.4,2400.8L640.4,2397.7L641.4,2394.5L642.4,2391.4L643.4,2388.1L644.4,2384.9L645.4,2381.7L646.4,2378.4L647.4,2375.1L648.4,2371.8L649.4,2368.4L650.4,2365.0L651.4,2361.7L652.4,2358.3L653.4,2354.8L654.4,2351.4L655.4,2348.0L656.4,2344.5L657.4,2341.0L658.4,2337.5L659.4,2334.0L660.4,2330.5L661.4,2327.0L662.4,2323.5L663.4,2320.0L664.4,2316.5L665.4,2313.1L666.4,2309.6L667.4,2306.2L668.4,2302.8L669.4,2299.5L670.4,2296.1L671.4,2292.9L672.4,2289.6L673.4,2286.4L674.4,2283.3L675.4,2280.2L676.4,2277.2L677.4,2274.2L678.4,2271.3L679.4,2268.5L680.4,2265.7L681.4,2263.1L682.4,2260.5L683.4,2258.0L684.4,2255.5L685.4,2253.1L686.4,2250.9L687.4,2248.6L688.4,2246.5L689.4,2244.5L690.4,2242.5L691.4,2240.6L692.4,2238.8L693.4,2237.1L694.4,2235.4L695.4,2233.9L696.4,2232.4L697.4,2231.0L698.4,2229.7L699.4,2228.4L700.4,2227.3L701.4,2226.2L702.4,2225.3L703.4,2224.4L704.4,2223.6L705.4,2222.9L706.4,2222.3L707.4,2221.7L708.4,2221.3L709.4,2221.0L710.4,2220.7L711.4,2220.5L712.4,2220.5L713.4,2220.5L714.4,2220.6L715.4,2220.8L716.4,2221.1L717.4,2221.5L718.4,2221.9L719.4,2222.5L720.4,2223.2L721.4,2224.0L722.4,2224.8L723.4,2225.8L724.4,2226.8L725.4,2228.0L726.4,2229.2L727.4,2230.6L728.4,2232.1L729.4,2233.6L730.4,2235.3L731.4,2237.0L732.4,2238.9L733.4,2240.8L734.4,2242.9L735.4,2245.1L736.4,2247.3L737.4,2249.7L738.4,2252.2L739.4,2254.7L740.4,2257.4L741.4,2260.1L742.4,2263.0L743.4,2265.9L744.4,2268.9L745.4,2271.9L746.4,2275.1L747.4,2278.3L748.4,2281.6L749.4,2284.9L750.4,2288.3L751.4,2291.8L752.4,2295.3L753.4,2298.9L754.4,2302.5L755.4,2306.2L756.4,2309.9L757.4,2313.7L758.4,2317.4L759.4,2321.3L760.4,2325.1L761.4,2329.0L762.4,2332.9L763.4,2336.8L764.4,2340.8L765.4,2344.7L766.4,2348.7L767.4,2352.7L768.4,2356.6L769.4,2360.6L770.4,2364.6L771.4,2368.6L772.4,2372.5L773.4,2376.5L774.4,2380.4L775.4,2384.4L776.4,2388.3L777.4,2392.2L778.4,2396.0L779.4,2399.9L780.4,2403.7L781.4,2407.4L782.4,2411.1L783.4,2414.8L784.4,2418.5L785.4,2422.0L786.4,2425.6L787.4,2429.1L788.4,2432.5L789.4,2435.9L790.4,2439.2L791.4,2442.4L792.4,2445.6L793.4,2448.7L794.4,2451.7L795.4,2454.6L796.4,2457.5L797.4,2460.3L798.4,2463.0L799.4,2465.6L800.4,2468.2L801.4,2470.7L802.4,2473.1L803.4,2475.4L804.4,2477.6L805.4,2479.8L806.4,2481.8L807.4,2483.8L808.4,2485.7L809.4,2487.5L810.4,2489.3L811.4,2490.9L812.4,2492.5L813.4,2494.0L814.4,2495.4L815.4,2496.7L816.4,2497.9L817.4,2499.1L818.4,2500.1L819.4,2501.1L820.4,2502.0L821.4,2502.8L822.4,2503.5L823.4,2504.1L824.4,2504.6L825.4,2505.0L826.4,2505.4L827.4,2505.6L828.4,2505.8L829.4,2505.9L830.4,2505.8L831.4,2505.7L832.4,2505.5L833.4,2505.2L834.4,2504.8L835.4,2504.3L836.4,2503.7L837.4,2503.0L838.4,2502.3L839.4,2501.4L840.4,2500.5L841.4,2499.5L842.4,2498.4L843.4,2497.3L844.4,2496.1L845.4,2494.8L846.4,2493.5L847.4,2492.2L848.4,2490.7L849.4,2489.3L850.4,2487.7L851.4,2486.2L852.4,2484.6L853.4,2483.0L854.4,2481.3L855.4,2479.6L856.4,2477.9L857.4,2476.1L858.4,2474.4L859.4,2472.6L860.4,2470.8L861.4,2469.0L862.4,2467.2L863.4,2465.4L864.4,2463.6L865.4,2461.8L866.4,2460.0L867.4,2458.2L868.4,2456.4L869.4,2454.6L870.4,2452.8L871.4,2451.0L872.4,2449.3L873.4,2447.5L874.4,2445.8L875.4,2444.0L876.4,2442.3L877.4,2440.6L878.4,2438.9L879.4,2437.2L880.4,2435.5L881.4,2433.8L882.4,2432.2L883.4,2430.5L884.4,2428.9L885.4,2427.2L886.4,2425.6L887.4,2424.0L888.4,2422.5L889.4,2420.9L890.4,2419.4L891.4,2417.8L892.4,2416.3L893.4,2414.8L894.4,2413.3L895.4,2411.9L896.4,2410.4L897.4,2409.0L898.4,2407.6L899.4,2406.2L900.4,2404.9L901.4,2403.6L902.4,2402.2L903.4,2400.9L904.4,2399.7L905.4,2398.4L906.4,2397.2L907.4,2396.0L908.4,2394.8L909.4,2393.7L910.4,2392.5L911.4,2391.5L912.4,2390.4L913.4,2389.3L914.4,2388.3L915.4,2387.4L916.4,2386.4L917.4,2385.5L918.4,2384.6L919.4,2383.8L920.4,2383.0L921.4,2382.2L922.4,2381.5L923.4,2380.8L924.4,2380.2L925.4,2379.6L926.4,2379.1L927.4,2378.6L928.4,2378.1L929.4,2377.7L930.4,2377.3L931.4,2377.0L932.4,2376.8L933.4,2376.5L934.4,2376.4L935.4,2376.3L936.4,2376.2L937.4,2376.3L938.4,2376.3L939.4,2376.5L940.4,2376.6L941.4,2376.9L942.4,2377.2L943.4,2377.6L944.4,2378.0L945.4,2378.5L946.4,2379.0L947.4,2379.6L948.4,2380.3L949.4,2381.0L950.4,2381.7L951.4,2382.5L952.4,2383.4L953.4,2384.3L954.4,2385.2L955.4,2386.2L956.4,2387.2L957.4,2388.2L958.4,2389.3L959.4,2390.4L960.4,2391.5L961.4,2392.7L962.4,2393.9L963.4,2395.1L964.4,2396.4L965.4,2397.6L966.4,2398.9L967.4,2400.2L968.4,2401.6L969.4,2402.9L970.4,2404.3L971.4,2405.7L972.4,2407.0L973.4,2408.4L974.4,2409.8L975.4,2411.2L976.4,2412.7L977.4,2414.1L978.4,2415.5L979.4,2416.9L980.4,2418.3L981.4,2419.7L982.4,2421.1L983.4,2422.5L984.4,2423.9L985.4,2425.3L986.4,2426.7L987.4,2428.1L988.4,2429.5L989.4,2430.9L990.4,2432.3L991.4,2433.6L992.4,2435.0L993.4,2436.4L994.4,2437.7L995.4,2439.1L996.4,2440.4L997.4,2441.7L998.4,2443.1L999.4,2444.4L1000.4,2445.7L1001.4,2447.0L1002.4,2448.3L1003.4,2449.6L1004.4,2450.9L1005.4,2452.2L1006.4,2453.4L1007.4,2454.7L1008.4,2456.0L1009.4,2457.2L1010.4,2458.4L1011.4,2459.7L1012.4,2460.9L1013.4,2462.1L1014.4,2463.3L1015.4,2464.5L1016.4,2465.7L1017.4,2466.8L1018.4,2468.0L1019.4,2469.1L1020.4,2470.3L1021.4,2471.4L1022.4,2472.5L1023.4,2473.6L1024.4,2474.7L1025.4,2475.8L1026.4,2476.9L1027.4,2477.9L1028.4,2479.0L1029.4,2480.0L1030.4,2481.0L1031.4,2482.0L1032.4,2483.0L1033.4,2484.0L1034.4,2485.0L1035.4,2485.9L1036.4,2486.9L1037.4,2487.8L1038.4,2488.7L1039.4,2489.6L1040.4,2490.5L1041.4,2491.3L1042.4,2492.2L1043.4,2493.0L1044.4,2493.8L1045.4,2494.7L1046.4,2495.4L1047.4,2496.2L1048.4,2497.0L1049.4,2497.7L1050.4,2498.4L1051.4,2499.1L1052.4,2499.8L1053.4,2500.5L1054.4,2501.1L1055.4,2501.8L1056.4,2502.4L1057.4,2503.0L1058.4,2503.6L1059.4,2504.1L1060.4,2504.7L1061.4,2505.2L1062.4,2505.7L1063.4,2506.2L1064.4,2506.7L1065.4,2507.2L1066.4,2507.6L1067.4,2508.0L1068.4,2508.5L1069.4,2508.9L1070.4,2509.2L1071.4,2509.6L1072.4,2510.0L1073.4,2510.3L1074.4,2510.6L1075.4,2510.9L1076.4,2511.2L1077.4,2511.5L1078.4,2511.8L1079.4,2512.0L1080.4,2512.3L1081.4,2512.5L1082.4,2512.7L1083.4,2512.9L1084.4,2513.1L1085.4,2513.3L1086.4,2513.4L1087.4,2513.6L1088.4,2513.7L1089.4,2513.9L1090.4,2514.0L1091.4,2514.1L1092.4,2514.2L1093.4,2514.3L1094.4,2514.3L1095.4,2514.4L1096.4,2514.4L1097.4,2514.5L1098.4,2514.5L1099.4,2514.5L1100.4,2514.6L1101.4,2514.6L1102.4,2514.6L1103.4,2514.5L1104.4,2514.5L1105.4,2514.5L1106.4,2514.5L1107.4,2514.4L1108.4,2514.4L1109.4,2514.3L1110.4,2514.2L1111.4,2514.2L1112.4,2514.1L1113.4,2514.0L1114.4,2513.9L1115.4,2513.8L1116.4,2513.7L1117.4,2513.6L1118.4,2513.4L1119.4,2513.3L1120.4,2513.2L1121.4,2513.0L1122.4,2512.9L1123.4,2512.8L1124.4,2512.6L1125.4,2512.5L1126.4,2512.3L1127.4,2512.1L1128.4,2512.0L1129.4,2511.8L1130.4,2511.6L1131.4,2511.4L1132.4,2511.3L1133.4,2511.1L1134.4,2510.9L1135.4,2510.7L1136.4,2510.5L1137.4,2510.3L1138.4,2510.1L1139.4,2509.9L1140.4,2509.7L1141.4,2509.5L1142.4,2509.4L1143.4,2509.2L1144.4,2509.0L1145.4,2508.8L1146.4,2508.6L1147.4,2508.4L1148.4,2508.2L1149.4,2508.0L1150.4,2507.8L1151.4,2507.6L1152.4,2507.4L1153.4,2507.2L1154.4,2507.0L1155.4,2506.8L1156.4,2506.6L1157.4,2506.4L1158.4,2506.2L1159.4,2506.0L1160.4,2505.9L1161.4,2505.7L1162.4,2505.5L1163.4,2505.3L1164.4,2505.2L1165.4,2505.0L1166.4,2504.8L1167.4,2504.7L1168.4,2504.5L1169.4,2504.4L1170.4,2504.2L1171.4,2504.1L1172.4,2504.0L1173.4,2503.9L1174.4,2503.7L1175.4,2503.6L1176.4,2503.5L1177.4,2503.4L1178.4,2503.3L1179.4,2503.2L1180.4,2503.1L1181.4,2503.0L1182.4,2502.9L1183.4,2502.9L1184.4,2502.8L1185.4,2502.7L1186.4,2502.6L1187.4,2502.6L1188.4,2502.5L1189.4,2502.5L1190.4,2502.4L1191.4,2502.4L1192.4,2502.3L1193.4,2502.3L1194.4,2502.3L1195.4,2502.2L1196.4,2502.2L1197.4,2502.2L1198.4,2502.2L1199.4,2502.2L1200.4,2502.2L1201.4,2502.1L1202.4,2502.1L1203.4,2502.1L1204.4,2502.1L1205.4,2502.2L1206.4,2502.2L1207.4,2502.2L1208.4,2502.2L1209.4,2502.2L1210.4,2502.2L1211.4,2502.2L1212.4,2502.3L1213.4,2502.3L1214.4,2502.3L1215.4,2502.4L1216.4,2502.4L1217.4,2502.4L1218.4,2502.5L1219.4,2502.5L1220.4,2502.6L1221.4,2502.6L1222.4,2502.7L1223.4,2502.7L1224.4,2502.8L1225.4,2502.8L1226.4,2502.9L1227.4,2502.9L1228.4,2503.0L1229.4,2503.1L1230.4,2503.1L1231.4,2503.2L1232.4,2503.3L1233.4,2503.3L1234.4,2503.4L1235.4,2503.5L1236.4,2503.5L1237.4,2503.6L1238.4,2503.7L1239.4,2503.8L1240.4,2503.8L1241.4,2503.9L1242.4,2504.0L1243.4,2504.1L1244.4,2504.1L1245.4,2504.2L1246.4,2504.3L1247.4,2504.4L1248.4,2504.5L1249.4,2504.5L1250.4,2504.6L1251.4,2504.7L1252.4,2504.8L1253.4,2504.9L1254.4,2505.0L1255.4,2505.0L1256.4,2505.1L1257.4,2505.2L1258.4,2505.3L1259.4,2505.4L1260.4,2505.4L1261.4,2505.5L1262.4,2505.6L1263.4,2505.7L1264.4,2505.8L1265.4,2505.8L1266.4,2505.9L1267.4,2506.0L1268.4,2506.1L1269.4,2506.2L1270.4,2506.2L1271.4,2506.3L1272.4,2506.4L1273.4,2506.4L1274.4,2506.5L1275.4,2506.6L1276.4,2506.7L1277.4,2506.7L1278.4,2506.8L1279.4,2506.9L1280.4,2506.9L1281.4,2507.0L1282.4,2507.1L1283.4,2507.1L1284.4,2507.2L1285.4,2507.2L1286.4,2507.3L1287.4,2507.4L1288.4,2507.4L1289.4,2507.5L1290.4,2507.5L1291.4,2507.6L1292.4,2507.7L1293.4,2507.7L1294.4,2507.8L1295.4,2507.8L1296.4,2507.9L1297.4,2507.9L1298.4,2508.0L1299.4,2508.0L1300.4,2508.1L1301.4,2508.1L1302.4,2508.2L1303.4,2508.2L1304.4,2508.3L1305.4,2508.3L1306.4,2508.4L1307.4,2508.4L1308.4,2508.5L1309.4,2508.5L1310.4,2508.5L1311.4,2508.6L1312.4,2508.6L1313.4,2508.7L1314.4,2508.7L1315.4,2508.8L1316.4,2508.8L1317.4,2508.8L1318.4,2508.9L1319.4,2508.9L1320.4,2508.9L1321.4,2509.0L1322.4,2509.0L1323.4,2509.0L1324.4,2509.1L1325.4,2509.1L1326.4,2509.1L1327.4,2509.2L1328.4,2509.2L1329.4,2509.2L1330.4,2509.3L1331.4,2509.3L1332.4,2509.3L1333.4,2509.4L1334.4,2509.4L1335.4,2509.4L1336.4,2509.4L1337.4,2509.5L1338.4,2509.5L1339.4,2509.5L1340.4,2509.5L1341.4,2509.6L1342.4,2509.6L1343.4,2509.6L1344.4,2509.6L1345.4,2509.7L1346.4,2509.7L1347.4,2509.7L1348.4,2509.7L1349.4,2509.7L1350.4,2509.8L1351.4,2509.8L1352.4,2509.8L1353.4,2509.8L1354.4,2509.8L1355.4,2509.8L1356.4,2509.9L1357.4,2509.9L1358.4,2509.9L1359.4,2509.9L1360.4,2509.9L1361.4,2509.9L1362.4,2509.9L1363.4,2509.9L1364.4,2510.0L1365.4,2510.0L1366.4,2510.0L1367.4,2510.0L1368.4,2510.0L1369.4,2510.0L1370.4,2510.0L1371.4,2510.0L1372.4,2510.0L1373.4,2510.0L1374.4,2510.0L1375.4,2510.1L1376.4,2510.1L1377.4,2510.1L1378.4,2510.1L1379.4,2510.1L1380.4,2510.1L1381.4,2510.1L1382.4,2510.1L1383.4,2510.1L1384.4,2510.1L1385.4,2510.1L1386.4,2510.1L1387.4,2510.1L1388.4,2510.1L1389.4,2510.1L1390.4,2510.1L1391.4,2510.1L1392.4,2510.1L1393.4,2510.1L1394.4,2510.1L1395.4,2510.1L1396.4,2510.1L1397.4,2510.1L1398.4,2510.1L1399.4,2510.1L1400.4,2510.1L1401.4,2510.1L1402.4,2510.1L1403.4,2510.1L1404.4,2510.1L1405.4,2510.1L1406.4,2510.1L1407.4,2510.0L1408.4,2510.0L1409.4,2510.0L1410.4,2510.0L1411.4,2510.0L1412.4,2510.0L1413.4,2510.0L1414.4,2510.0L1415.4,2510.0L1416.4,2510.0L1417.4,2510.0L1418.4,2510.0L1419.4,2510.0L1420.4,2509.9L1421.4,2509.9L1422.4,2509.9L1423.4,2509.9L1424.4,2509.9L1425.4,2509.9L1426.4,2509.9L1427.4,2509.9L1428.4,2509.9L1429.4,2509.8L1430.4,2509.8L1431.4,2509.8L1432.4,2509.8L1433.4,2509.8L1434.4,2509.8L1435.4,2509.8L1436.4,2509.8L1437.4,2509.7L1438.4,2509.7L1439.4,2509.7L1440.4,2509.7L1441.4,2509.7L1442.4,2509.7L1443.4,2509.7L1444.4,2509.6L1445.4,2509.6L1446.4,2509.6L1447.4,2509.6L1448.4,2509.6L1449.4,2509.6L1450.4,2509.5L1451.4,2509.5L1452.4,2509.5L1453.4,2509.5L1454.4,2509.5L1455.4,2509.5L1456.4,2509.4L1457.4,2509.4L1458.4,2509.4L1459.4,2509.4L1460.4,2509.4L1461.4,2509.4L1462.4,2509.3L1463.4,2509.3L1464.4,2509.3L1465.4,2509.3L1466.4,2509.3L1467.4,2509.3L1468.4,2509.2L1469.4,2509.2L1470.4,2509.2L1471.4,2509.2L1472.4,2509.2L1473.4,2509.1L1474.4,2509.1L1475.4,2509.1L1476.4,2509.1L1477.4,2509.1L1478.4,2509.1L1479.4,2509.0L1480.4,2509.0L1481.4,2509.0L1482.4,2509.0L1483.4,2509.0L1484.4,2508.9L1485.4,2508.9L1486.4,2508.9L1487.4,2508.9L1488.4,2508.9L1489.4,2508.8L1490.4,2508.8L1491.4,2508.8L1492.4,2508.8L1493.4,2508.8L1494.4,2508.8L1495.4,2508.7L1496.4,2508.7L1497.4,2508.7L1498.4,2508.7L1499.4,2508.7L1500.4,2508.6L1501.4,2508.6L1502.4,2508.6L1503.4,2508.6L1504.4,2508.6L1505.4,2508.5L1506.4,2508.5L1507.4,2508.5L1508.4,2508.5L1509.4,2508.5L1510.4,2508.5L1511.4,2508.4L1512.4,2508.4L1513.4,2508.4L1514.4,2508.4L1515.4,2508.4L1516.4,2508.4L1517.4,2508.3L1518.4,2508.3L1519.4,2508.3L1520.4,2508.3L1521.4,2508.3L1522.4,2508.2L1523.4,2508.2L1524.4,2508.2L1525.4,2508.2L1526.4,2508.2L1527.4,2508.2L1528.4,2508.2L1529.4,2508.1L1530.4,2508.1L1531.4,2508.1L1532.4,2508.1L1533.4,2508.1L1534.4,2508.1L1535.4,2508.0L1536.4,2508.0L1537.4,2508.0L1538.4,2508.0L1539.4,2508.0L1540.4,2508.0L1541.4,2508.0L1542.4,2507.9L1543.4,2507.9L1544.4,2507.9L1545.4,2507.9L1546.4,2507.9L1547.4,2507.9L1548.4,2507.9L1549.4,2507.9L1550.4,2507.8L1551.4,2507.8L1552.4,2507.8L1553.4,2507.8L1554.4,2507.8L1555.4,2507.8L1556.4,2507.8L1557.4,2507.8L1558.4,2507.8L1559.4,2507.8L1560.4,2507.7L1561.4,2507.7L1562.4,2507.7L1563.4,2507.7L1564.4,2507.7L1565.4,2507.7L1566.4,2507.7L1567.4,2507.7L1568.4,2507.7L1569.4,2507.7L1570.4,2507.7L1571.4,2507.7L1572.4,2507.7L1573.4,2507.7L1574.4,2507.7L1575.4,2507.6L1576.4,2507.6L1577.4,2507.6L1578.4,2507.6L1579.4,2507.6L1580.4,2507.6L1581.4,2507.6L1582.4,2507.6L1583.4,2507.6L1584.4,2507.6L1585.4,2507.6L1586.4,2507.6L1587.4,2507.6L1588.4,2507.6L1589.4,2507.6L1590.4,2507.6L1591.4,2507.6L1592.4,2507.6L1593.4,2507.6L1594.4,2507.6L1595.4,2507.6L1596.4,2507.6L1597.4,2507.6L1598.4,2507.6L1599.4,2507.7L1600.4,2507.7L1601.4,2507.7L1602.4,2507.7L1603.4,2507.7L1604.4,2507.7L1605.4,2507.7L1606.4,2507.7L1607.4,2507.7L1608.4,2507.7L1609.4,2507.7L1610.4,2507.7L1611.4,2507.7L1612.4,2507.8L1613.4,2507.8L1614.4,2507.8L1615.4,2507.8L1616.4,2507.8L1617.4,2507.8L1618.4,2507.8L1619.4,2507.8L1620.4,2507.9L1621.4,2507.9L1622.4,2507.9L1623.4,2507.9L1624.4,2507.9L1625.4,2507.9L1626.4,2508.0L1627.4,2508.0L1628.4,2508.0L1629.4,2508.0L1630.4,2508.0L1631.4,2508.1L1632.4,2508.1L1633.4,2508.1L1634.4,2508.1L1635.4,2508.1L1636.4,2508.2L1637.4,2508.2L1638.4,2508.2L1639.4,2508.2L1640.4,2508.3L1641.4,2508.3L1642.4,2508.3L1643.4,2508.3L1644.4,2508.4L1645.4,2508.4L1646.4,2508.4L1647.4,2508.5L1648.4,2508.5L1649.4,2508.5L1650.4,2508.6L1651.4,2508.6L1652.4,2508.6L1653.4,2508.7L1654.4,2508.7L1655.4,2508.7L1656.4,2508.8L1657.4,2508.8L1658.4,2508.8L1659.4,2508.9L1660.4,2508.9L1661.4,2509.0L1662.4,2509.0L1663.4,2509.0L1664.4,2509.1L1665.4,2509.1L1666.4,2509.2L1667.4,2509.2L1668.4,2509.2L1669.4,2509.3L1670.4,2509.3L1671.4,2509.4L1672.4,2509.4L1673.4,2509.5L1674.4,2509.5L1675.4,2509.6L1676.4,2509.6L1677.4,2509.7L1678.4,2509.7L1679.4,2509.8L1680.4,2509.8L1681.4,2509.9L1682.4,2509.9L1683.4,2510.0L1684.4,2510.0L1685.4,2510.1L1685.5,2510.1" stroke="#000" stroke-width="7.0" fill="none" stroke-linejoin="round" stroke-linecap="round"/>
<path d="M716,1486.8V2600.3" stroke="#000" stroke-width="5.0" stroke-dasharray="29 25.5" fill="none"/>
<path d="M937.5,1977V2600.3" stroke="#000" stroke-width="5.0" stroke-dasharray="29 25.5" fill="none"/>
<rect x="287.5" y="1489.8" width="1501.5" height="1110.5000000000002" fill="none" stroke="#000" stroke-width="8.0"/>
<path d="M874.4,1570H998" stroke="#e0121b" stroke-width="7.0"/>
<path d="M874.4,1670.5H998" stroke="#000" stroke-width="7.0"/>
<text font-family="'Liberation Serif','Times New Roman',serif" font-weight="bold" font-size="80" x="755.4" y="1361.0">Temperature</text><text font-family="'Liberation Serif','Times New Roman',serif" font-weight="normal" font-size="56" x="1217.6" y="1359.7">(</text><text font-family="'Liberation Serif','Times New Roman',serif" font-weight="normal" font-size="86" x="1234.9" y="1365.6">°</text><text font-family="'Liberation Serif','Times New Roman',serif" font-weight="bold" font-size="82" x="1268.0" y="1361.5">C</text><text font-family="'Liberation Serif','Times New Roman',serif" font-weight="normal" font-size="56" x="1324.2" y="1359.7">)</text>
<text font-family="'Liberation Serif','Times New Roman',serif" font-weight="bold" font-size="81.5" x="738.9" y="2747.0">Temperature</text><text font-family="'Liberation Serif','Times New Roman',serif" font-weight="normal" font-size="56.3" x="1210.0" y="2747.2">(</text><text font-family="'Liberation Serif','Times New Roman',serif" font-weight="normal" font-size="82" x="1229.8" y="2748.3">°</text><text font-family="'Liberation Serif','Times New Roman',serif" font-weight="bold" font-size="82" x="1262.4" y="2747.5">C</text><text font-family="'Liberation Serif','Times New Roman',serif" font-weight="normal" font-size="56.3" x="1317.4" y="2747.2">)</text>
<text font-family="'Liberation Serif','Times New Roman',serif" font-weight="bold" font-size="78" xml:space="preserve" transform="translate(85.6,808.7) rotate(-90)">TCD  signal</text>
<text font-family="'Liberation Serif','Times New Roman',serif" font-weight="bold" font-size="79.5" xml:space="preserve" transform="translate(77.7,2299.5) rotate(-90)">TCD  signal</text>
<g transform="translate(16.60,72.31) scale(0.7991,0.7711)"><text font-family="'Liberation Serif','Times New Roman',serif" font-size="100"><tspan font-weight="normal">(</tspan><tspan font-weight="bold">a</tspan><tspan font-weight="normal">)</tspan></text></g>
<g transform="translate(18.65,1502.55) scale(0.8132,0.7644)"><text font-family="'Liberation Serif','Times New Roman',serif" font-size="100"><tspan font-weight="normal">(</tspan><tspan font-weight="bold">b</tspan><tspan font-weight="normal">)</tspan></text></g>
<g transform="translate(497.75,148.22) scale(0.7907,0.7859)"><text font-family="'Liberation Serif','Times New Roman',serif" font-size="100" xml:space="preserve"><tspan font-weight="bold">Zn</tspan><tspan font-weight="normal" font-size="100">(</tspan><tspan font-weight="bold">OAc</tspan><tspan font-weight="normal" font-size="100">)</tspan><tspan font-weight="bold" font-size="62" dy="30">2</tspan><tspan font-weight="normal" font-size="100" dy="-30">/</tspan><tspan font-weight="bold">AC </tspan><tspan font-weight="normal" font-size="100">+</tspan><tspan font-weight="bold"> C</tspan><tspan font-weight="bold" font-size="62" dy="30">2</tspan><tspan font-weight="bold" font-size="100" dy="-30">H</tspan><tspan font-weight="bold" font-size="62" dy="30">2</tspan></text></g>
<g transform="translate(491.36,262.59) scale(0.7882,0.7771)"><text font-family="'Liberation Serif','Times New Roman',serif" font-size="100" xml:space="preserve"><tspan font-weight="bold">Zn1Co0.3 </tspan><tspan font-weight="normal" font-size="100">+</tspan><tspan font-weight="bold"> C</tspan><tspan font-weight="bold" font-size="62" dy="30">2</tspan><tspan font-weight="bold" font-size="100" dy="-30">H</tspan><tspan font-weight="bold" font-size="62" dy="30">2</tspan></text></g>
<g transform="translate(1018.76,1587.83) scale(0.8081,0.8338)"><text font-family="'Liberation Serif','Times New Roman',serif" font-size="100" xml:space="preserve"><tspan font-weight="bold">Zn1Co0.3</tspan><tspan font-weight="normal" font-size="100">/</tspan><tspan font-weight="bold">AC </tspan><tspan font-weight="normal" font-size="100">+</tspan><tspan font-weight="bold"> HAc</tspan></text></g>
<g transform="translate(1018.76,1686.36) scale(0.8070,0.7879)"><text font-family="'Liberation Serif','Times New Roman',serif" font-size="100" xml:space="preserve"><tspan font-weight="bold">Zn</tspan><tspan font-weight="normal" font-size="100">(</tspan><tspan font-weight="bold">OAc</tspan><tspan font-weight="normal" font-size="100">)</tspan><tspan font-weight="bold" font-size="62" dy="30">2</tspan><tspan font-weight="normal" font-size="100" dy="-30">/</tspan><tspan font-weight="bold">AC </tspan><tspan font-weight="normal" font-size="100">+</tspan><tspan font-weight="bold"> HAc</tspan></text></g>
<g transform="translate(130.25,1091.36) scale(0.7868,0.7806)"><text font-family="'Liberation Serif','Times New Roman',serif" font-weight="bold" font-size="100">0.00</text></g>
<g transform="translate(130.25,865.68) scale(0.7868,0.7806)"><text font-family="'Liberation Serif','Times New Roman',serif" font-weight="bold" font-size="100">0.05</text></g>
<g transform="translate(130.25,640.00) scale(0.7868,0.7806)"><text font-family="'Liberation Serif','Times New Roman',serif" font-weight="bold" font-size="100">0.10</text></g>
<g transform="translate(130.25,414.32) scale(0.7868,0.7806)"><text font-family="'Liberation Serif','Times New Roman',serif" font-weight="bold" font-size="100">0.15</text></g>
<g transform="translate(130.25,188.64) scale(0.7868,0.7806)"><text font-family="'Liberation Serif','Times New Roman',serif" font-weight="bold" font-size="100">0.20</text></g>
<g transform="translate(140.06,2526.81) scale(0.7102,0.7045)"><text font-family="'Liberation Serif','Times New Roman',serif" font-weight="bold" font-size="100">0.00</text></g>
<g transform="translate(140.06,2341.72) scale(0.7102,0.7045)"><text font-family="'Liberation Serif','Times New Roman',serif" font-weight="bold" font-size="100">0.01</text></g>
<g transform="translate(140.06,2156.64) scale(0.7102,0.7045)"><text font-family="'Liberation Serif','Times New Roman',serif" font-weight="bold" font-size="100">0.02</text></g>
<g transform="translate(140.06,1971.56) scale(0.7102,0.7045)"><text font-family="'Liberation Serif','Times New Roman',serif" font-weight="bold" font-size="100">0.03</text></g>
<g transform="translate(140.06,1786.47) scale(0.7102,0.7045)"><text font-family="'Liberation Serif','Times New Roman',serif" font-weight="bold" font-size="100">0.04</text></g>
<g transform="translate(140.06,1601.39) scale(0.7102,0.7045)"><text font-family="'Liberation Serif','Times New Roman',serif" font-weight="bold" font-size="100">0.05</text></g>
<g transform="translate(290.20,1269.80) scale(0.8085,0.7985)"><text font-family="'Liberation Serif','Times New Roman',serif" font-weight="bold" font-size="100" text-anchor="middle">0</text></g>
<g transform="translate(492.07,1269.80) scale(0.8085,0.7985)"><text font-family="'Liberation Serif','Times New Roman',serif" font-weight="bold" font-size="100" text-anchor="middle">100</text></g>
<g transform="translate(693.93,1269.80) scale(0.8085,0.7985)"><text font-family="'Liberation Serif','Times New Roman',serif" font-weight="bold" font-size="100" text-anchor="middle">200</text></g>
<g transform="translate(895.80,1269.80) scale(0.8085,0.7985)"><text font-family="'Liberation Serif','Times New Roman',serif" font-weight="bold" font-size="100" text-anchor="middle">300</text></g>
<g transform="translate(1097.67,1269.80) scale(0.8085,0.7985)"><text font-family="'Liberation Serif','Times New Roman',serif" font-weight="bold" font-size="100" text-anchor="middle">400</text></g>
<g transform="translate(1299.53,1269.80) scale(0.8085,0.7985)"><text font-family="'Liberation Serif','Times New Roman',serif" font-weight="bold" font-size="100" text-anchor="middle">500</text></g>
<g transform="translate(1501.40,1269.80) scale(0.8085,0.7985)"><text font-family="'Liberation Serif','Times New Roman',serif" font-weight="bold" font-size="100" text-anchor="middle">600</text></g>
<g transform="translate(1703.27,1269.80) scale(0.8085,0.7985)"><text font-family="'Liberation Serif','Times New Roman',serif" font-weight="bold" font-size="100" text-anchor="middle">700</text></g>
<g transform="translate(286.45,2679.00) scale(0.7232,0.7000)"><text font-family="'Liberation Serif','Times New Roman',serif" font-weight="bold" font-size="100" text-anchor="middle">0</text></g>
<g transform="translate(500.95,2679.00) scale(0.7232,0.7000)"><text font-family="'Liberation Serif','Times New Roman',serif" font-weight="bold" font-size="100" text-anchor="middle">100</text></g>
<g transform="translate(715.45,2679.00) scale(0.7232,0.7000)"><text font-family="'Liberation Serif','Times New Roman',serif" font-weight="bold" font-size="100" text-anchor="middle">200</text></g>
<g transform="translate(929.95,2679.00) scale(0.7232,0.7000)"><text font-family="'Liberation Serif','Times New Roman',serif" font-weight="bold" font-size="100" text-anchor="middle">300</text></g>
<g transform="translate(1144.45,2679.00) scale(0.7232,0.7000)"><text font-family="'Liberation Serif','Times New Roman',serif" font-weight="bold" font-size="100" text-anchor="middle">400</text></g>
<g transform="translate(1358.95,2679.00) scale(0.7232,0.7000)"><text font-family="'Liberation Serif','Times New Roman',serif" font-weight="bold" font-size="100" text-anchor="middle">500</text></g>
<g transform="translate(1573.45,2679.00) scale(0.7232,0.7000)"><text font-family="'Liberation Serif','Times New Roman',serif" font-weight="bold" font-size="100" text-anchor="middle">600</text></g>
<g transform="translate(1787.95,2679.00) scale(0.7232,0.7000)"><text font-family="'Liberation Serif','Times New Roman',serif" font-weight="bold" font-size="100" text-anchor="middle">700</text></g>
</g>
</svg></body></html>
